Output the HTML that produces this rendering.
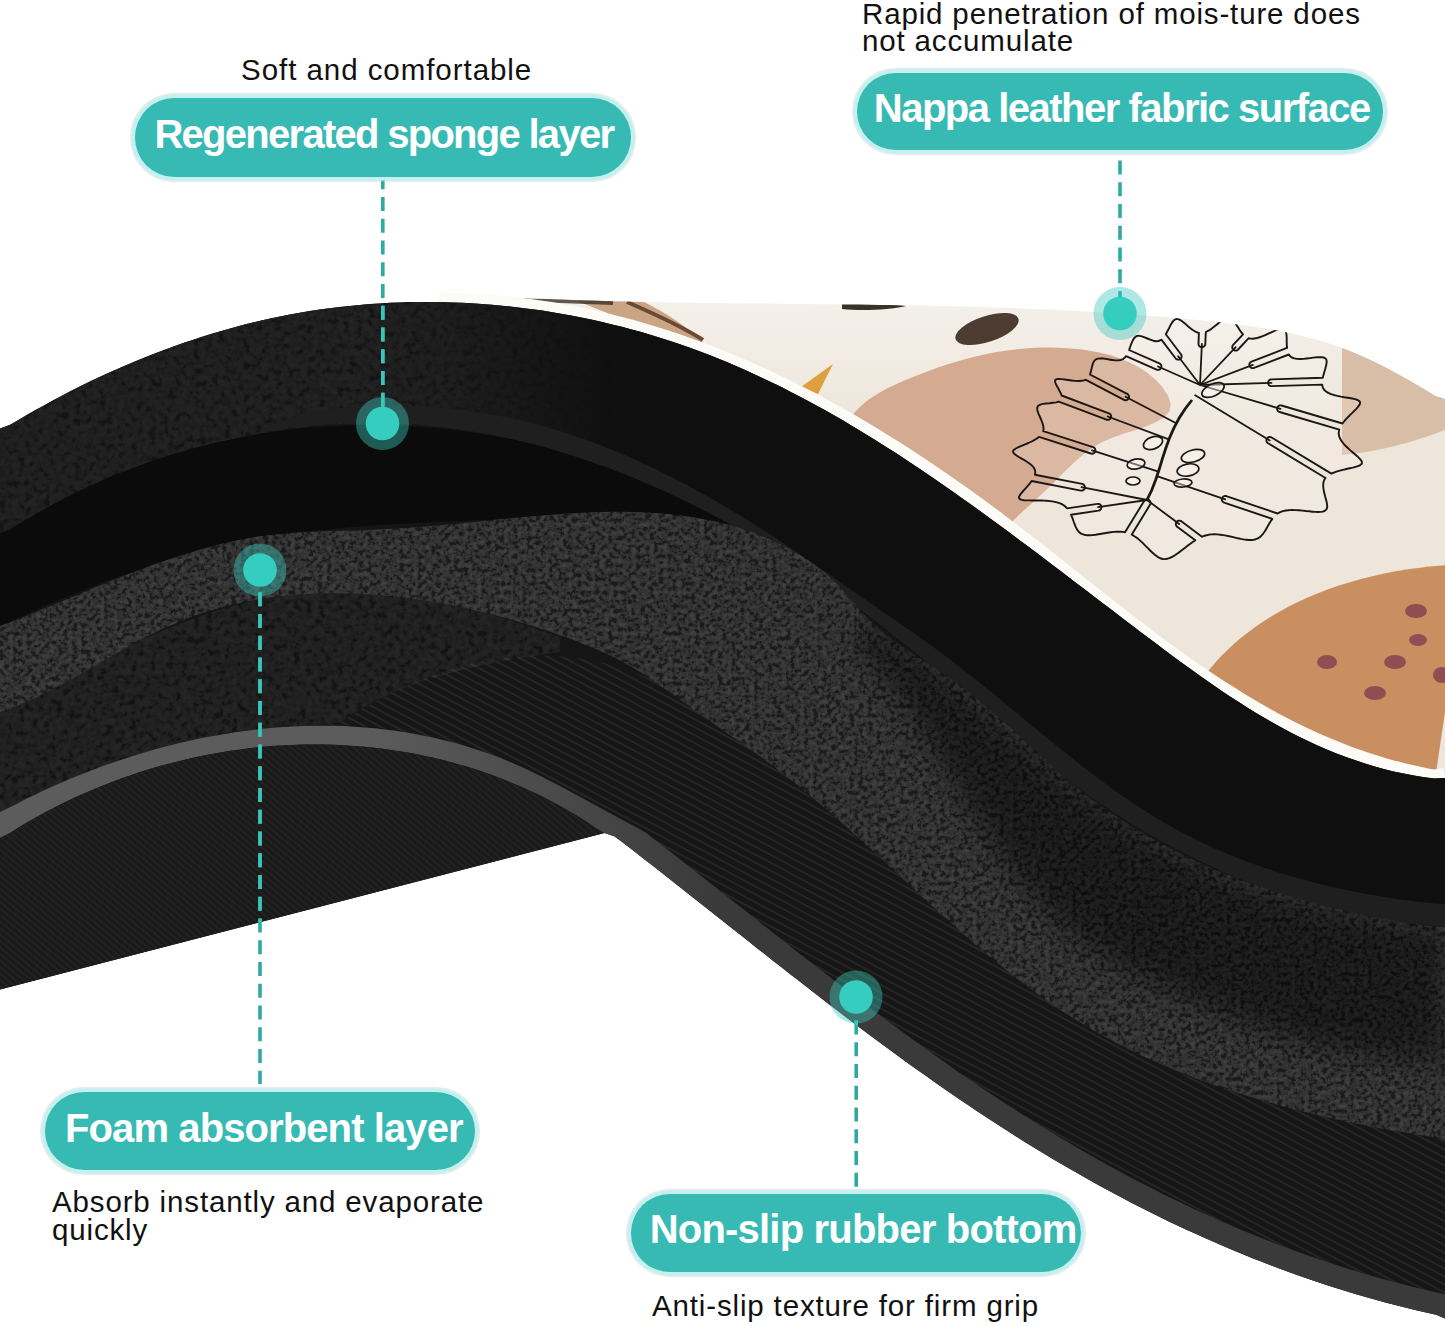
<!DOCTYPE html>
<html><head><meta charset="utf-8"><style>
html,body{margin:0;padding:0;background:#fff;}
body{width:1445px;height:1326px;position:relative;overflow:hidden;font-family:"Liberation Sans",sans-serif;}
.pill{position:absolute;background:#36bab3;box-shadow:0 0 0 3.5px #c4f1ef,0 0 1px 5px rgba(170,200,200,0.35);}
.ptxt{position:absolute;color:#fff;font-weight:bold;white-space:nowrap;line-height:1;}
.note{position:absolute;color:#111;white-space:nowrap;}
</style></head><body>
<svg width="1445" height="1326" viewBox="0 0 1445 1326" style="position:absolute;left:0;top:0">
<defs>
 <linearGradient id="archg" gradientUnits="userSpaceOnUse" x1="430" y1="0" x2="650" y2="0">
  <stop offset="0" stop-color="#161616"/><stop offset="1" stop-color="#0f0f0f"/>
 </linearGradient>
 <linearGradient id="bandg" gradientUnits="userSpaceOnUse" x1="360" y1="0" x2="720" y2="0">
  <stop offset="0" stop-color="#5c5c5c"/><stop offset="1" stop-color="#3a3a3a"/>
 </linearGradient>
 <linearGradient id="creamg" gradientUnits="userSpaceOnUse" x1="0" y1="300" x2="0" y2="420">
  <stop offset="0" stop-color="#f4f0ea"/><stop offset="1" stop-color="#eee6db"/>
 </linearGradient>
 <filter id="nz" filterUnits="userSpaceOnUse" x="0" y="0" width="1445" height="1326">
  <feTurbulence type="fractalNoise" baseFrequency="0.16" numOctaves="4" seed="4"/>
  <feColorMatrix type="matrix" values="0.6 0.4 0 0 0  0.6 0.4 0 0 0  0.6 0.4 0 0 0  0 0 0 0 1"/>
  <feComponentTransfer>
   <feFuncR type="linear" slope="3.2" intercept="-1.15"/>
   <feFuncG type="linear" slope="3.2" intercept="-1.15"/>
   <feFuncB type="linear" slope="3.2" intercept="-1.15"/>
  </feComponentTransfer>
 </filter>
 <pattern id="wov" width="7" height="7" patternUnits="userSpaceOnUse" patternTransform="rotate(28)">
  <rect width="7" height="7" fill="#161616"/><rect y="0" width="7" height="2" fill="#262626"/>
 </pattern>
 <pattern id="wov2" width="5" height="5" patternUnits="userSpaceOnUse" patternTransform="rotate(40)">
  <rect width="5" height="5" fill="#1a1a1a"/><rect y="0" width="5" height="1.4" fill="#252525"/>
 </pattern>
 <filter id="blur12" x="-10%" y="-10%" width="120%" height="120%"><feGaussianBlur stdDeviation="14"/></filter>
 <filter id="nzF" filterUnits="userSpaceOnUse" x="0" y="0" width="1445" height="1326">
  <feTurbulence type="fractalNoise" baseFrequency="0.22" numOctaves="4" seed="11"/>
  <feColorMatrix type="matrix" values="0.6 0.4 0 0 0  0.6 0.4 0 0 0  0.6 0.4 0 0 0  0 0 0 0 1"/>
  <feComponentTransfer>
   <feFuncR type="linear" slope="3" intercept="-1.2"/>
   <feFuncG type="linear" slope="3" intercept="-1.2"/>
   <feFuncB type="linear" slope="3" intercept="-1.2"/>
  </feComponentTransfer>
 </filter>
 <linearGradient id="archfade" gradientUnits="userSpaceOnUse" x1="380" y1="0" x2="620" y2="0">
  <stop offset="0" stop-color="#fff"/><stop offset="1" stop-color="#000"/>
 </linearGradient>
 <mask id="archmask" maskUnits="userSpaceOnUse" x="0" y="0" width="1445" height="1326"><rect x="0" y="280" width="700" height="300" fill="url(#archfade)"/></mask>
 <clipPath id="archclip2"><path d="M0.0,428.4 9.7,425.1 18.4,419.9 27.2,414.8 36.0,409.8 44.9,404.9 53.8,400.0 62.8,395.3 71.8,390.6 80.8,386.1 89.9,381.6 99.0,377.3 108.2,373.1 117.4,368.9 126.7,364.9 136.0,361.0 145.3,357.2 154.7,353.5 164.1,349.9 173.6,346.4 183.1,343.1 192.6,339.9 202.2,336.8 211.8,333.8 221.4,330.9 231.1,328.2 240.8,325.6 250.6,323.1 260.3,320.8 270.2,318.6 280.0,316.5 289.9,314.5 299.8,312.8 309.8,311.1 319.7,309.6 329.7,308.2 339.8,307.0 349.8,305.9 359.9,304.9 370.0,304.1 380.1,303.4 390.3,302.8 400.4,302.4 410.6,302.1 420.7,302.0 430.9,302.0 441.0,302.1 451.2,302.4 461.4,302.8 471.5,303.3 481.7,303.9 491.8,304.7 502.0,305.7 512.1,306.7 522.2,307.9 532.3,309.2 542.4,310.6 552.4,312.2 562.4,313.9 572.4,315.8 582.4,317.7 592.3,319.8 602.2,322.0 612.1,324.4 621.9,326.8 631.7,329.4 641.4,332.1 651.1,335.0 660.7,337.9 670.3,341.0 679.9,344.2 689.3,347.6 698.8,351.0 708.2,354.6 717.5,358.3 726.8,362.1 736.0,366.0 745.2,370.0 754.3,374.2 763.4,378.4 772.4,382.7 781.4,387.1 790.3,391.7 799.2,396.3 808.1,401.0 816.9,405.8 825.7,410.6 834.4,415.6 843.2,420.6 851.8,425.7 860.5,430.9 869.1,436.2 877.6,441.5 886.2,446.9 894.7,452.3 903.1,457.8 911.6,463.4 920.0,469.0 928.4,474.7 936.8,480.4 945.1,486.2 953.4,492.0 961.7,497.9 970.0,503.8 978.3,509.7 986.5,515.7 994.7,521.7 1003.0,527.7 1011.1,533.8 1019.3,539.9 1027.5,546.0 1035.6,552.1 1043.8,558.2 1051.9,564.4 1060.0,570.5 1068.1,576.7 1076.2,582.9 1084.3,589.1 1092.4,595.2 1100.5,601.4 1108.6,607.6 1116.7,613.7 1124.8,619.9 1132.8,626.0 1140.9,632.2 1149.0,638.3 1157.1,644.3 1165.2,650.4 1173.3,656.4 1181.4,662.4 1189.6,668.3 1197.8,674.2 1206.0,680.0 1214.2,685.7 1222.5,691.4 1230.8,696.9 1239.2,702.3 1247.6,707.7 1256.1,712.9 1264.7,718.0 1273.3,722.9 1282.0,727.8 1290.7,732.4 1299.6,736.9 1308.5,741.3 1317.5,745.4 1326.7,749.4 1335.9,753.2 1345.2,756.8 1354.7,760.1 1364.2,763.3 1373.9,766.2 1383.7,768.9 1393.6,771.4 1403.7,773.6 1413.9,775.5 1424.2,777.2 1434.7,778.6 1445.0,778.0 L1445,927 L1445.0,927.0 1435.4,926.3 1425.2,925.5 1415.0,924.5 1404.8,923.3 1394.6,921.9 1384.5,920.4 1374.4,918.8 1364.3,917.0 1354.3,915.0 1344.4,912.9 1334.4,910.6 1324.6,908.1 1314.7,905.5 1305.0,902.8 1295.2,899.9 1285.6,896.9 1276.0,893.7 1266.5,890.3 1257.0,886.8 1247.6,883.2 1238.3,879.4 1229.0,875.5 1219.8,871.4 1210.7,867.2 1201.7,862.9 1192.8,858.4 1183.9,853.8 1175.2,849.1 1166.5,844.2 1157.9,839.2 1149.4,834.0 1140.9,828.8 1132.6,823.4 1124.3,817.9 1116.0,812.4 1107.8,806.7 1099.7,801.0 1091.6,795.1 1083.6,789.2 1075.6,783.2 1067.7,777.2 1059.8,771.0 1051.9,764.9 1044.0,758.6 1036.2,752.4 1028.4,746.0 1020.6,739.7 1012.8,733.3 1005.0,726.9 997.3,720.5 989.5,714.0 981.7,707.6 973.9,701.1 966.1,694.6 958.3,688.2 950.4,681.8 942.6,675.3 934.7,668.9 926.8,662.6 918.8,656.2 910.8,649.9 902.8,643.6 894.8,637.3 886.8,631.1 878.7,624.9 870.6,618.8 862.4,612.7 854.2,606.6 846.0,600.6 837.8,594.7 829.5,588.8 821.2,583.0 812.9,577.2 804.5,571.5 796.1,565.8 787.6,560.3 779.1,554.8 770.6,549.3 762.0,544.0 753.4,538.7 744.8,533.5 736.1,528.4 727.4,523.4 718.6,518.5 709.8,513.7 700.9,509.0 692.0,504.3 683.1,499.8 674.1,495.4 665.1,491.1 656.0,486.9 646.8,482.8 637.7,478.8 628.4,475.0 619.2,471.2 609.8,467.6 600.5,464.1 591.0,460.8 581.6,457.6 572.0,454.5 562.4,451.5 552.8,448.7 543.1,446.1 533.4,443.6 523.6,441.2 513.7,439.0 503.9,436.9 494.0,435.0 484.0,433.2 474.1,431.5 464.1,430.0 454.0,428.7 444.0,427.5 433.9,426.5 423.8,425.6 413.8,424.8 403.6,424.3 393.5,423.8 383.4,423.6 373.3,423.5 363.2,423.5 353.1,423.7 343.0,424.1 332.9,424.6 322.8,425.3 312.7,426.1 302.7,427.2 292.7,428.3 282.7,429.7 272.7,431.2 262.7,432.9 252.8,434.7 243.0,436.7 233.1,438.9 223.3,441.2 213.6,443.7 203.9,446.3 194.2,449.1 184.5,452.0 174.9,455.1 165.4,458.3 155.9,461.6 146.4,465.0 136.9,468.6 127.5,472.3 118.2,476.1 108.9,480.0 99.6,484.0 90.4,488.1 81.2,492.3 72.0,496.6 62.9,501.0 53.8,505.5 44.8,510.0 35.9,514.7 26.9,519.3 18.0,524.1 9.2,528.9 0.0,533.0 Z"/></clipPath>
 <clipPath id="dimclip"><path d="M0.0,712.0 9.3,708.3 18.3,703.6 27.2,698.9 36.2,694.2 45.2,689.4 54.2,684.6 63.3,679.7 72.3,674.9 81.4,670.2 90.5,665.4 99.7,660.7 108.8,656.0 118.0,651.5 127.3,647.0 136.5,642.6 145.8,638.3 155.2,634.1 164.5,630.0 173.9,626.1 183.4,622.4 192.9,618.8 202.4,615.4 212.0,612.2 221.6,609.3 231.3,606.5 241.0,603.9 250.8,601.6 260.6,599.6 270.5,597.8 280.4,596.3 290.4,595.0 300.4,594.0 310.4,593.3 320.5,592.7 330.6,592.4 340.7,592.4 350.8,592.5 361.0,592.9 371.1,593.5 381.3,594.3 391.4,595.2 401.6,596.4 411.8,597.8 421.9,599.4 432.0,601.1 442.1,603.0 452.2,605.1 462.2,607.3 472.3,609.7 482.2,612.3 492.2,615.0 502.1,617.8 511.9,620.8 521.7,623.9 531.4,627.2 541.1,630.5 550.7,634.0 560.0,637.0 L560.0,652.0 549.6,653.5 539.2,655.1 528.8,656.7 518.4,658.4 507.9,660.2 497.5,662.2 487.0,664.3 476.6,666.5 466.2,668.9 455.9,671.5 445.7,674.2 435.5,677.2 425.4,680.4 415.4,683.9 405.5,687.6 395.7,691.5 386.0,695.8 376.5,700.4 367.1,705.3 357.9,710.5 348.9,716.1 340.0,722.0 L300,726 L229,732 L172,746 L115,762 L57,785 L0,812 Z"/></clipPath>
 <clipPath id="creamclip"><path d="M502.0,298.0 512.3,297.4 522.5,297.9 532.6,298.4 542.8,298.8 553.0,299.2 563.1,299.6 573.3,300.0 583.5,300.3 593.7,300.6 603.9,300.9 614.1,301.2 624.2,301.4 634.4,301.7 644.6,301.9 654.8,302.1 665.0,302.3 675.2,302.5 685.4,302.6 695.6,302.8 705.9,302.9 716.1,303.1 726.3,303.2 736.5,303.3 746.7,303.4 756.9,303.5 767.1,303.6 777.3,303.7 787.6,303.9 797.8,304.0 808.0,304.1 818.2,304.2 828.4,304.3 838.6,304.4 848.9,304.5 859.1,304.6 869.3,304.8 879.5,304.9 889.7,305.1 899.9,305.2 910.2,305.4 920.4,305.6 930.6,305.8 940.8,306.0 951.0,306.3 961.2,306.5 971.4,306.8 981.6,307.1 991.8,307.4 1002.0,307.7 1012.2,308.1 1022.4,308.5 1032.6,308.9 1042.8,309.3 1053.0,309.8 1063.2,310.3 1073.4,310.8 1083.6,311.3 1093.7,311.9 1103.9,312.5 1114.1,313.2 1124.3,313.9 1134.4,314.6 1144.6,315.4 1154.7,316.2 1164.9,317.0 1175.0,317.9 1185.2,318.8 1195.3,319.7 1205.5,320.8 1215.6,321.8 1225.7,322.9 1235.8,324.2 1245.9,325.5 1255.9,327.0 1265.9,328.6 1275.9,330.3 1285.8,332.3 1295.7,334.4 1305.5,336.8 1315.3,339.3 1325.0,342.2 1334.6,345.3 1344.1,348.7 1353.5,352.4 1362.9,356.4 1372.2,360.7 1381.4,365.2 1390.5,370.0 1399.6,375.0 1408.6,380.0 1417.6,385.2 1426.5,390.5 1435.5,395.9 1445.0,399.0 L1445,830 L1250,830 L1000,640 L700,430 L480,330 Z"/></clipPath>
 <clipPath id="foamclip"><path d="M0.0,626.0 9.3,622.6 18.4,619.0 27.6,615.4 36.8,611.7 46.1,607.8 55.4,604.0 64.8,600.1 74.2,596.2 83.6,592.3 93.1,588.3 102.6,584.4 112.1,580.6 121.7,576.8 131.3,573.0 140.9,569.4 150.6,565.8 160.3,562.3 170.0,559.0 179.7,555.7 189.4,552.7 199.2,549.8 209.0,547.1 218.7,544.5 228.5,542.2 238.3,540.1 248.1,538.2 257.9,536.6 267.8,535.3 277.6,534.2 287.4,533.2 297.3,532.5 307.1,531.9 317.0,531.5 326.9,531.1 336.8,530.8 346.7,530.5 356.7,530.2 366.7,529.9 376.7,529.6 386.8,529.1 396.9,528.6 407.0,527.9 417.2,527.1 427.4,526.3 437.6,525.4 447.9,524.5 458.1,523.5 468.4,522.4 478.7,521.4 489.0,520.4 499.3,519.3 509.6,518.3 519.9,517.3 530.2,516.4 540.5,515.5 550.8,514.7 561.1,513.9 571.3,513.3 581.6,512.7 591.8,512.3 602.0,512.0 612.1,511.8 622.2,511.8 632.3,512.0 642.4,512.3 652.4,512.8 662.3,513.6 672.2,514.5 682.1,515.7 691.9,517.1 701.6,518.8 711.3,520.7 720.9,522.9 730.4,525.3 739.9,528.1 749.3,531.2 758.6,534.6 767.8,538.4 776.9,542.5 785.9,547.0 794.7,551.8 803.3,557.0 811.7,562.6 819.7,568.6 827.5,575.0 834.9,581.9 841.9,589.2 848.5,596.8 855.1,604.6 861.7,612.2 868.7,619.5 876.1,626.3 883.7,632.7 891.7,638.8 899.8,644.7 908.1,650.5 916.5,656.1 925.0,661.6 933.5,667.1 941.9,672.7 950.3,678.5 958.5,684.4 966.5,690.5 974.4,696.7 982.2,703.2 989.9,709.7 997.5,716.4 1005.1,723.1 1012.6,729.9 1020.0,736.8 1027.5,743.7 1034.9,750.5 1042.4,757.4 1049.9,764.1 1057.4,770.9 1065.0,777.5 1072.8,784.0 1080.6,790.3 1088.5,796.6 1096.6,802.6 1104.8,808.5 1113.1,814.2 1121.5,819.8 1130.0,825.2 1138.6,830.5 1147.3,835.6 1156.1,840.6 1165.0,845.4 1173.9,850.1 1183.0,854.6 1192.1,859.0 1201.3,863.3 1210.6,867.4 1220.0,871.4 1229.4,875.2 1238.8,878.9 1248.4,882.5 1257.9,885.9 1267.6,889.2 1277.2,892.4 1286.9,895.4 1296.7,898.3 1306.5,901.1 1316.3,903.8 1326.1,906.4 1336.0,908.8 1345.8,911.1 1355.7,913.3 1365.6,915.4 1375.5,917.3 1385.4,919.2 1395.3,920.9 1405.2,922.6 1415.1,924.1 1424.9,925.5 1434.8,926.8 1445.0,927.0 L1445,1140 L1445.0,1140.0 1435.1,1137.7 1425.3,1136.1 1415.4,1134.5 1405.5,1132.8 1395.6,1131.1 1385.6,1129.3 1375.7,1127.4 1365.8,1125.5 1355.8,1123.5 1345.9,1121.4 1336.0,1119.2 1326.1,1117.0 1316.2,1114.7 1306.3,1112.3 1296.4,1109.8 1286.5,1107.2 1276.7,1104.6 1266.9,1101.8 1257.1,1099.0 1247.4,1096.0 1237.7,1093.0 1228.0,1089.8 1218.4,1086.5 1208.8,1083.2 1199.3,1079.7 1189.8,1076.1 1180.4,1072.4 1171.1,1068.6 1161.8,1064.6 1152.5,1060.6 1143.4,1056.4 1134.3,1052.0 1125.3,1047.6 1116.3,1043.0 1107.5,1038.3 1098.7,1033.4 1090.0,1028.4 1081.4,1023.3 1072.9,1018.0 1064.4,1012.6 1056.1,1007.0 1047.8,1001.3 1039.7,995.5 1031.6,989.6 1023.5,983.5 1015.6,977.4 1007.6,971.2 999.8,964.8 992.0,958.4 984.2,951.9 976.5,945.4 968.9,938.8 961.3,932.1 953.7,925.3 946.1,918.6 938.6,911.7 931.0,904.9 923.5,898.0 916.0,891.1 908.6,884.2 901.1,877.2 893.6,870.3 886.1,863.4 878.7,856.5 871.2,849.6 863.6,842.7 856.1,835.9 848.6,829.1 841.0,822.3 833.3,815.6 825.7,808.9 818.0,802.3 810.3,795.8 802.5,789.3 794.6,782.9 786.7,776.7 778.8,770.4 770.8,764.3 762.7,758.3 754.5,752.4 746.3,746.6 738.1,740.8 729.9,735.1 721.6,729.3 713.4,723.6 705.1,717.7 696.9,711.9 688.8,705.9 680.6,700.0 672.4,694.1 664.2,688.3 656.0,682.6 647.7,677.0 639.2,671.6 630.7,666.5 622.0,661.7 613.2,657.1 604.2,652.9 595.1,648.8 585.9,645.0 576.6,641.3 567.2,637.8 557.7,634.4 548.1,631.1 538.5,628.0 528.8,624.9 519.1,621.9 509.3,619.1 499.4,616.4 489.5,613.8 479.6,611.4 469.6,609.1 459.6,606.9 449.6,604.9 439.5,603.0 429.4,601.3 419.3,599.7 409.2,598.3 399.1,597.1 388.9,596.0 378.8,595.1 368.7,594.4 358.6,593.8 348.5,593.4 338.4,593.3 328.3,593.3 318.2,593.5 308.2,593.9 298.2,594.6 288.2,595.4 278.3,596.5 268.4,597.8 258.6,599.4 248.8,601.2 239.0,603.2 229.3,605.5 219.7,608.0 210.1,610.8 200.5,613.8 191.1,617.2 181.7,620.8 172.4,624.7 163.1,628.8 153.9,633.2 144.8,637.9 135.7,642.7 126.7,647.6 117.7,652.7 108.8,657.8 99.8,663.0 90.9,668.2 81.9,673.3 73.0,678.4 64.0,683.3 55.0,688.1 46.0,692.8 36.9,697.2 27.8,701.3 18.6,705.2 9.3,708.8 0.0,712.0 Z"/></clipPath>
 <clipPath id="silclip"><path d="M0.0,428.4 9.7,425.1 18.4,419.9 27.2,414.8 36.0,409.8 44.9,404.9 53.8,400.0 62.8,395.3 71.8,390.6 80.8,386.1 89.9,381.6 99.0,377.3 108.2,373.1 117.4,368.9 126.7,364.9 136.0,361.0 145.3,357.2 154.7,353.5 164.1,349.9 173.6,346.4 183.1,343.1 192.6,339.9 202.2,336.8 211.8,333.8 221.4,330.9 231.1,328.2 240.8,325.6 250.6,323.1 260.3,320.8 270.2,318.6 280.0,316.5 289.9,314.5 299.8,312.8 309.8,311.1 319.7,309.6 329.7,308.2 339.8,307.0 349.8,305.9 359.9,304.9 370.0,304.1 380.1,303.4 390.3,302.8 400.4,302.4 410.6,302.1 420.7,302.0 430.9,302.0 441.0,302.1 451.2,302.4 461.4,302.8 471.5,303.3 481.7,303.9 491.8,304.7 502.0,305.7 512.1,306.7 522.2,307.9 532.3,309.2 542.4,310.6 552.4,312.2 562.4,313.9 572.4,315.8 582.4,317.7 592.3,319.8 602.2,322.0 612.1,324.4 621.9,326.8 631.7,329.4 641.4,332.1 651.1,335.0 660.7,337.9 670.3,341.0 679.9,344.2 689.3,347.6 698.8,351.0 708.2,354.6 717.5,358.3 726.8,362.1 736.0,366.0 745.2,370.0 754.3,374.2 763.4,378.4 772.4,382.7 781.4,387.1 790.3,391.7 799.2,396.3 808.1,401.0 816.9,405.8 825.7,410.6 834.4,415.6 843.2,420.6 851.8,425.7 860.5,430.9 869.1,436.2 877.6,441.5 886.2,446.9 894.7,452.3 903.1,457.8 911.6,463.4 920.0,469.0 928.4,474.7 936.8,480.4 945.1,486.2 953.4,492.0 961.7,497.9 970.0,503.8 978.3,509.7 986.5,515.7 994.7,521.7 1003.0,527.7 1011.1,533.8 1019.3,539.9 1027.5,546.0 1035.6,552.1 1043.8,558.2 1051.9,564.4 1060.0,570.5 1068.1,576.7 1076.2,582.9 1084.3,589.1 1092.4,595.2 1100.5,601.4 1108.6,607.6 1116.7,613.7 1124.8,619.9 1132.8,626.0 1140.9,632.2 1149.0,638.3 1157.1,644.3 1165.2,650.4 1173.3,656.4 1181.4,662.4 1189.6,668.3 1197.8,674.2 1206.0,680.0 1214.2,685.7 1222.5,691.4 1230.8,696.9 1239.2,702.3 1247.6,707.7 1256.1,712.9 1264.7,718.0 1273.3,722.9 1282.0,727.8 1290.7,732.4 1299.6,736.9 1308.5,741.3 1317.5,745.4 1326.7,749.4 1335.9,753.2 1345.2,756.8 1354.7,760.1 1364.2,763.3 1373.9,766.2 1383.7,768.9 1393.6,771.4 1403.7,773.6 1413.9,775.5 1424.2,777.2 1434.7,778.6 1445.0,778.0 L1445,1318.5 L1445.0,1318.5 1436.1,1314.8 1426.1,1312.6 1416.1,1310.2 1406.1,1307.8 1396.2,1305.3 1386.3,1302.7 1376.5,1300.0 1366.7,1297.3 1356.9,1294.4 1347.2,1291.5 1337.5,1288.5 1327.8,1285.4 1318.2,1282.2 1308.6,1279.0 1299.1,1275.7 1289.5,1272.3 1280.0,1268.8 1270.6,1265.2 1261.2,1261.6 1251.8,1257.9 1242.4,1254.1 1233.1,1250.3 1223.8,1246.3 1214.6,1242.3 1205.4,1238.3 1196.2,1234.1 1187.0,1229.9 1177.9,1225.7 1168.8,1221.4 1159.8,1217.0 1150.8,1212.5 1141.8,1208.0 1132.8,1203.4 1123.9,1198.7 1115.0,1194.0 1106.1,1189.2 1097.3,1184.4 1088.5,1179.5 1079.7,1174.6 1071.0,1169.6 1062.3,1164.5 1053.6,1159.4 1045.0,1154.2 1036.3,1149.0 1027.7,1143.7 1019.2,1138.4 1010.7,1133.0 1002.2,1127.6 993.7,1122.1 985.2,1116.5 976.8,1111.0 968.4,1105.3 960.1,1099.7 951.7,1094.0 943.4,1088.2 935.1,1082.4 926.9,1076.6 918.6,1070.8 910.4,1064.9 902.2,1058.9 894.0,1053.0 885.9,1047.0 877.7,1041.0 869.6,1034.9 861.5,1028.9 853.4,1022.8 845.3,1016.7 837.3,1010.5 829.2,1004.4 821.2,998.2 813.2,992.0 805.2,985.8 797.2,979.6 789.2,973.4 781.2,967.1 773.2,960.9 765.3,954.6 757.3,948.4 749.4,942.1 741.5,935.8 733.5,929.6 725.6,923.3 717.7,917.0 709.8,910.8 701.9,904.5 693.9,898.2 686.0,892.0 678.1,885.8 670.2,879.5 662.3,873.3 654.4,867.1 646.5,860.9 638.5,854.8 630.6,848.6 622.7,842.5 614.7,836.4 604.5,833.0 L0,989.6 Z"/></clipPath>
 <clipPath id="archclip"><path d="M0.0,428.4 9.5,424.6 18.4,419.5 27.3,414.4 36.2,409.5 45.2,404.6 54.3,399.8 63.4,395.1 72.6,390.5 81.8,386.0 91.1,381.6 100.4,377.2 109.7,373.0 119.1,368.8 128.6,364.8 138.0,360.8 147.6,357.0 157.1,353.3 166.7,349.6 176.4,346.1 186.0,342.7 195.7,339.5 205.5,336.3 215.3,333.2 225.1,330.3 234.9,327.5 244.8,324.8 254.7,322.3 264.6,319.8 274.6,317.5 284.5,315.4 294.5,313.3 304.6,311.5 314.6,309.7 324.7,308.1 334.8,306.6 344.9,305.3 355.0,304.1 365.2,303.1 375.3,302.2 385.5,301.5 395.7,300.9 405.9,300.5 416.1,300.3 426.3,300.2 436.6,300.3 446.8,300.5 457.0,300.9 467.3,301.5 477.6,302.3 487.8,303.2 498.1,304.3 508.4,305.6 518.6,307.1 528.9,308.7 539.2,310.5 549.0,312.0 L560,430 L470.0,432.0 460.0,429.9 449.7,428.1 439.5,426.5 429.3,425.1 419.0,424.0 408.8,423.1 398.6,422.4 388.4,421.9 378.2,421.6 368.0,421.6 357.8,421.7 347.6,422.1 337.5,422.7 327.3,423.4 317.2,424.4 307.1,425.5 297.0,426.8 287.0,428.3 276.9,429.9 266.9,431.8 256.9,433.8 246.9,435.9 237.0,438.2 227.0,440.6 217.1,443.2 207.3,446.0 197.4,448.8 187.6,451.9 177.9,455.0 168.1,458.2 158.4,461.6 148.8,465.1 139.1,468.7 129.6,472.4 120.0,476.2 110.5,480.1 101.1,484.2 91.7,488.2 82.3,492.4 73.0,496.7 63.7,501.0 54.5,505.4 45.3,509.9 36.2,514.4 27.1,519.0 18.1,523.7 9.1,528.4 0.0,533.0 Z"/></clipPath>
</defs>
<rect width="1445" height="1326" fill="#fff"/>
<g clip-path="url(#creamclip)">
 <rect x="450" y="280" width="1000" height="560" fill="url(#creamg)"/>
 <path d="M840.0,440.0 843.5,429.8 848.3,420.8 854.3,412.7 861.4,405.5 869.4,399.1 878.1,393.4 887.4,388.3 897.0,383.7 906.9,379.4 916.8,375.4 926.7,371.7 936.5,368.1 946.3,364.8 956.1,361.8 965.9,359.0 975.7,356.4 985.5,354.2 995.4,352.3 1005.3,350.7 1015.3,349.4 1025.4,348.4 1035.6,347.8 1046.0,347.6 1056.4,347.7 1067.0,348.2 1077.7,349.1 1088.4,350.6 1099.1,352.5 1109.5,355.1 1119.7,358.3 1129.4,362.3 1138.6,367.1 1147.2,372.7 1155.1,379.3 1162.1,386.8 1167.8,395.2 1170.8,403.7 1169.4,411.4 1163.3,417.9 1154.2,423.1 1143.9,427.3 1133.4,430.8 1122.8,434.1 1112.6,437.6 1102.9,441.7 1094.0,446.8 1085.7,452.6 1077.9,459.1 1070.4,466.0 1063.1,473.1 1055.9,480.4 1048.6,487.6 1041.1,494.7 1033.5,501.7 1025.9,508.6 1018.3,515.6 1010.9,522.7 1003.6,529.8 996.6,537.2 990.0,545.0 Z" fill="#d4aa90"/>
 <path d="M1342,340 L1342,455 C1380,452 1420,440 1450,428 L1450,330 Z" fill="#d9bea7"/>
 <path d="M1180,720 C1215,630 1320,573 1450,565 L1445,712 L1432,800 L1180,800 Z" fill="#c98f60"/>
 <path d="M577,301 L640,300 C665,312 690,328 705,345 C690,342 660,330 620,318 Z" fill="#c9a583"/>
 <path d="M627,302 C650,312 680,325 703,340" stroke="#6b4a33" stroke-width="4" fill="none"/>
 <path d="M505,298 L613,300 L613,305 L505,301 Z" fill="#3a2f26" opacity="0.8"/>
 <path d="M842,304 C860,303 890,304 906,306 C890,310 860,311 842,309 Z" fill="#3b3129"/>
 <ellipse cx="987" cy="329" rx="33" ry="13" transform="rotate(-18 987 329)" fill="#4b3b31"/>
 <path d="M833,364 L801,387 L818,394 Z" fill="#dca03e"/>
 <path d="M1013.0,451.6 1013.0,451.6 1013.3,452.8 1013.4,452.8 1013.4,452.8 1014.6,454.1 1014.6,454.1 1014.6,454.1 1016.5,455.5 1016.5,455.5 1018.9,457.0 1018.9,457.0 1021.6,458.6 1021.6,458.6 1024.5,460.2 1024.5,460.2 1027.3,462.0 1027.4,462.0 1030.0,463.9 1030.1,463.9 1032.3,465.9 1032.3,465.9 1032.4,466.0 1034.0,468.0 1034.0,468.1 1034.1,468.1 1034.1,468.2 1035.0,470.3 1035.1,470.4 1035.1,470.4 1035.1,470.5 1035.3,472.7 1035.3,472.8 1035.3,472.9 1035.3,473.0 1034.9,474.7 1034.9,474.7 1034.9,474.7 1082.1,483.9 1082.2,483.9 1082.4,484.0 1082.5,484.0 1082.8,484.1 1082.8,484.1 1083.1,484.2 1083.1,484.3 1083.3,484.4 1083.4,484.4 1083.6,484.6 1083.7,484.6 1083.9,484.8 1083.9,484.9 1084.1,485.1 1084.1,485.1 1084.3,485.3 1084.3,485.4 1084.5,485.6 1084.5,485.7 1084.6,485.9 1084.6,486.0 1084.7,486.2 1084.8,486.3 1084.8,486.5 1084.8,486.6 1084.9,486.9 1084.9,486.9 1084.9,487.2 1084.9,487.3 1084.9,487.5 1084.9,487.6 1084.8,487.9 1084.8,487.9 1084.8,488.2 1084.7,488.3 1084.7,488.5 1084.6,488.6 1084.5,488.8 1084.5,488.9 1084.4,489.1 1084.3,489.2 1084.2,489.4 1084.1,489.4 1083.9,489.6 1083.9,489.7 1083.7,489.8 1083.6,489.9 1083.4,490.0 1083.4,490.1 1083.1,490.2 1083.1,490.3 1082.8,490.4 1082.8,490.4 1082.5,490.5 1082.5,490.5 1082.2,490.6 1082.1,490.6 1081.9,490.6 1081.8,490.6 1081.6,490.6 1081.5,490.6 1081.2,490.6 1081.1,490.6 1080.9,490.6 1080.8,490.6 1031.7,481.0 1031.7,481.0 1031.6,481.0 1030.0,483.3 1029.9,483.3 1027.8,485.8 1027.8,485.9 1025.6,488.3 1025.6,488.3 1023.5,490.6 1023.5,490.6 1021.7,492.8 1021.7,492.8 1020.2,494.6 1020.2,494.7 1019.3,496.3 1019.2,496.3 1019.2,496.3 1018.9,497.6 1018.9,497.6 1018.9,497.6 1019.3,498.6 1019.3,498.6 1019.3,498.6 1020.3,499.4 1020.3,499.4 1020.4,499.4 1021.9,499.9 1021.9,499.9 1021.9,499.9 1024.0,500.2 1024.0,500.2 1026.5,500.4 1026.5,500.4 1029.3,500.4 1029.3,500.4 1032.5,500.5 1035.8,500.5 1035.8,500.5 1039.4,500.5 1039.4,500.5 1043.0,500.5 1043.0,500.6 1046.6,500.7 1046.7,500.7 1050.2,501.1 1050.3,501.1 1053.7,501.6 1053.8,501.6 1057.0,502.4 1057.1,502.4 1060.1,503.4 1060.2,503.4 1062.8,504.7 1062.9,504.8 1062.9,504.8 1065.2,506.4 1065.3,506.5 1065.3,506.5 1067.1,508.4 1067.1,508.4 1067.2,508.4 1097.5,503.9 1097.5,503.9 1097.8,503.9 1097.9,503.9 1098.1,503.9 1098.2,503.9 1098.5,503.9 1098.5,503.9 1098.8,503.9 1098.9,504.0 1099.1,504.0 1099.2,504.1 1099.4,504.2 1099.5,504.2 1099.7,504.3 1099.8,504.4 1100.0,504.5 1100.1,504.5 1100.3,504.7 1100.3,504.8 1100.5,504.9 1100.5,505.0 1100.7,505.2 1100.8,505.3 1100.9,505.5 1100.9,505.5 1101.1,505.8 1101.1,505.8 1101.2,506.1 1101.2,506.1 1101.3,506.4 1101.3,506.5 1101.4,506.7 1101.4,506.8 1101.4,507.0 1101.4,507.1 1101.4,507.4 1101.4,507.5 1101.4,507.7 1101.4,507.8 1101.3,508.0 1101.3,508.1 1101.2,508.4 1101.2,508.4 1101.1,508.7 1101.1,508.7 1100.9,509.0 1100.9,509.0 1100.8,509.2 1100.7,509.3 1100.5,509.5 1100.5,509.6 1100.3,509.7 1100.3,509.8 1100.1,510.0 1100.0,510.0 1099.8,510.1 1099.7,510.2 1099.5,510.3 1099.4,510.3 1099.2,510.4 1099.1,510.5 1098.9,510.5 1098.8,510.6 1098.5,510.6 1098.5,510.6 1071.0,514.7 1071.0,514.7 1071.0,514.7 1071.6,516.0 1071.6,516.1 1072.7,518.7 1072.7,518.8 1073.6,521.5 1074.6,524.1 1074.6,524.1 1075.6,526.6 1075.6,526.6 1076.7,528.8 1076.7,528.9 1078.0,530.8 1078.0,530.8 1078.0,530.8 1079.4,532.4 1079.4,532.4 1079.4,532.4 1081.1,533.6 1081.1,533.6 1081.2,533.6 1083.1,534.4 1083.1,534.4 1083.1,534.4 1085.2,535.0 1085.3,535.0 1087.6,535.2 1087.6,535.2 1090.1,535.2 1090.1,535.2 1092.7,535.0 1092.7,535.0 1095.5,534.7 1095.5,534.7 1098.4,534.2 1098.4,534.2 1101.4,533.7 1104.4,533.2 1104.4,533.2 1107.5,532.7 1107.5,532.7 1110.6,532.2 1110.6,532.2 1113.6,531.9 1113.7,531.9 1116.7,531.7 1116.8,531.7 1119.7,531.6 1119.8,531.7 1122.7,531.9 1122.8,531.9 1125.0,532.2 1125.0,532.2 1125.0,532.2 1144.0,501.2 1144.0,501.2 1144.2,500.9 1144.2,500.9 1144.4,500.7 1144.5,500.6 1144.6,500.4 1144.7,500.4 1144.9,500.2 1145.0,500.1 1145.2,500.0 1145.3,500.0 1145.5,499.8 1145.6,499.8 1145.8,499.7 1145.9,499.7 1146.1,499.6 1146.2,499.6 1146.5,499.5 1146.6,499.5 1146.8,499.5 1146.9,499.5 1147.2,499.5 1147.2,499.5 1147.5,499.5 1147.6,499.6 1147.8,499.6 1147.9,499.6 1148.2,499.7 1148.2,499.7 1148.5,499.8 1148.6,499.9 1148.8,500.0 1148.9,500.0 1149.1,500.2 1149.1,500.2 1149.3,500.4 1149.4,500.5 1149.6,500.6 1149.6,500.7 1149.8,500.9 1149.9,501.0 1150.0,501.2 1150.0,501.3 1150.2,501.5 1150.2,501.6 1150.3,501.8 1150.3,501.9 1150.4,502.1 1150.4,502.2 1150.5,502.5 1150.5,502.6 1150.5,502.8 1150.5,502.9 1150.5,503.2 1150.5,503.2 1150.5,503.5 1150.4,503.6 1150.4,503.8 1150.4,503.9 1150.3,504.2 1150.3,504.2 1150.2,504.5 1150.1,504.6 1150.0,504.8 1150.0,504.8 1131.8,534.6 1131.7,534.6 1131.8,534.7 1133.5,535.6 1133.6,535.7 1136.0,537.3 1136.1,537.3 1138.4,539.1 1138.4,539.1 1140.7,541.1 1140.7,541.1 1142.9,543.1 1142.9,543.2 1145.0,545.3 1145.0,545.3 1147.1,547.4 1149.2,549.5 1149.2,549.5 1151.2,551.5 1151.2,551.5 1153.1,553.3 1153.2,553.3 1155.1,555.0 1155.1,555.0 1157.1,556.4 1157.1,556.5 1159.0,557.6 1159.1,557.7 1161.0,558.5 1161.0,558.5 1161.0,558.5 1163.0,559.0 1163.0,559.0 1163.0,559.0 1165.0,559.1 1165.0,559.1 1165.0,559.1 1167.0,558.8 1167.1,558.8 1167.1,558.8 1169.1,558.2 1169.2,558.2 1171.2,557.3 1171.3,557.3 1173.4,556.2 1173.4,556.2 1175.6,554.8 1175.6,554.8 1177.8,553.3 1177.8,553.2 1180.1,551.6 1180.1,551.6 1182.4,549.8 1184.8,547.9 1184.8,547.9 1187.2,546.0 1187.2,546.0 1189.6,544.2 1189.6,544.2 1192.1,542.4 1192.1,542.4 1194.7,540.7 1194.7,540.6 1195.3,540.2 1195.4,540.2 1195.3,540.2 1177.2,526.7 1177.2,526.7 1177.0,526.5 1176.9,526.5 1176.8,526.3 1176.7,526.2 1176.5,526.1 1176.5,526.0 1176.4,525.8 1176.3,525.7 1176.2,525.5 1176.2,525.4 1176.1,525.2 1176.0,525.1 1176.0,524.9 1175.9,524.8 1175.9,524.5 1175.9,524.5 1175.9,524.2 1175.9,524.1 1175.9,523.9 1175.9,523.8 1175.9,523.5 1175.9,523.5 1175.9,523.2 1176.0,523.1 1176.0,522.9 1176.1,522.8 1176.2,522.6 1176.2,522.5 1176.3,522.3 1176.4,522.2 1176.5,522.0 1176.5,521.9 1176.7,521.7 1176.8,521.7 1176.9,521.5 1177.0,521.5 1177.2,521.3 1177.3,521.2 1177.5,521.1 1177.5,521.1 1177.8,520.9 1177.8,520.9 1178.1,520.8 1178.1,520.8 1178.4,520.7 1178.5,520.7 1178.7,520.6 1178.8,520.6 1179.0,520.6 1179.1,520.6 1179.4,520.6 1179.5,520.6 1179.7,520.6 1179.8,520.6 1180.0,520.7 1180.1,520.7 1180.4,520.8 1180.4,520.8 1180.7,520.9 1180.7,520.9 1181.0,521.1 1181.0,521.1 1181.3,521.3 1181.3,521.3 1202.0,536.7 1202.0,536.7 1202.1,536.7 1202.7,536.4 1202.7,536.4 1205.4,535.5 1205.5,535.5 1208.3,534.8 1208.4,534.8 1211.2,534.4 1211.3,534.4 1214.1,534.3 1214.2,534.3 1217.1,534.4 1217.2,534.4 1220.2,534.7 1220.2,534.7 1223.2,535.1 1223.2,535.1 1226.2,535.6 1226.2,535.6 1229.2,536.3 1229.2,536.3 1232.2,536.9 1232.2,536.9 1235.1,537.6 1238.0,538.3 1238.0,538.3 1240.8,538.9 1240.8,538.9 1243.6,539.4 1243.6,539.4 1246.2,539.8 1246.3,539.8 1248.8,540.0 1248.8,540.0 1251.2,540.0 1251.3,540.0 1253.6,539.7 1253.6,539.7 1255.8,539.2 1255.8,539.2 1255.8,539.2 1257.8,538.4 1257.8,538.4 1257.8,538.4 1259.7,537.2 1259.7,537.2 1259.7,537.2 1261.4,535.7 1261.4,535.7 1263.0,533.8 1263.0,533.8 1264.5,531.7 1264.5,531.7 1265.9,529.4 1265.9,529.4 1267.3,527.0 1268.7,524.5 1268.7,524.5 1270.2,522.0 1270.2,522.0 1271.8,519.6 1271.8,519.6 1272.3,518.9 1272.3,518.9 1272.3,518.9 1224.1,502.6 1224.1,502.6 1223.9,502.5 1223.8,502.4 1223.6,502.3 1223.5,502.3 1223.3,502.1 1223.2,502.1 1223.0,501.9 1222.9,501.9 1222.8,501.7 1222.7,501.6 1222.5,501.4 1222.5,501.4 1222.4,501.2 1222.3,501.1 1222.2,500.9 1222.2,500.8 1222.1,500.6 1222.0,500.5 1221.9,500.3 1221.9,500.2 1221.9,499.9 1221.9,499.9 1221.8,499.6 1221.8,499.5 1221.8,499.3 1221.8,499.2 1221.8,498.9 1221.9,498.9 1221.9,498.6 1221.9,498.5 1222.0,498.3 1222.0,498.2 1222.1,498.0 1222.1,497.9 1222.3,497.7 1222.3,497.6 1222.4,497.4 1222.5,497.3 1222.6,497.1 1222.7,497.1 1222.9,496.9 1222.9,496.8 1223.1,496.7 1223.2,496.6 1223.4,496.5 1223.5,496.4 1223.7,496.3 1223.7,496.3 1224.0,496.2 1224.1,496.2 1224.3,496.1 1224.4,496.1 1224.6,496.0 1224.7,496.0 1225.0,496.0 1225.0,496.0 1225.3,495.9 1225.4,496.0 1225.6,496.0 1225.7,496.0 1226.0,496.0 1226.0,496.0 1226.3,496.1 1226.3,496.1 1277.7,513.5 1277.7,513.6 1277.7,513.5 1280.0,512.2 1280.1,512.2 1280.2,512.2 1282.8,511.2 1282.9,511.2 1285.7,510.5 1285.8,510.5 1288.9,510.2 1289.0,510.1 1292.2,510.0 1292.2,510.0 1295.6,510.1 1295.6,510.1 1299.0,510.3 1299.0,510.3 1302.5,510.6 1302.5,510.6 1305.9,511.0 1305.9,511.0 1309.2,511.3 1312.3,511.7 1312.4,511.7 1315.3,511.9 1315.3,511.9 1318.1,512.0 1318.1,512.0 1320.5,511.9 1320.6,511.9 1322.7,511.6 1322.7,511.6 1322.7,511.6 1324.5,511.0 1324.5,510.9 1324.5,510.9 1325.9,510.0 1325.9,510.0 1325.9,510.0 1326.8,508.7 1326.8,508.7 1326.8,508.7 1327.2,507.0 1327.2,506.9 1327.2,506.9 1327.1,504.8 1327.1,504.8 1326.7,502.3 1326.7,502.3 1326.0,499.6 1326.0,499.6 1325.2,496.7 1325.2,496.7 1324.5,493.7 1324.4,493.7 1323.8,490.7 1323.8,490.6 1323.3,487.7 1323.3,487.6 1323.2,484.8 1323.2,484.7 1323.2,484.7 1323.5,482.1 1323.5,482.1 1323.5,482.0 1324.3,479.7 1324.4,479.7 1324.4,479.6 1324.4,479.5 1325.5,478.0 1325.5,478.0 1325.5,478.0 1268.1,443.3 1268.1,443.3 1267.8,443.1 1267.8,443.1 1267.6,442.9 1267.5,442.9 1267.3,442.7 1267.3,442.6 1267.1,442.4 1267.1,442.4 1266.9,442.1 1266.9,442.1 1266.8,441.8 1266.7,441.8 1266.6,441.5 1266.6,441.5 1266.5,441.2 1266.5,441.1 1266.5,440.9 1266.5,440.8 1266.4,440.6 1266.4,440.5 1266.4,440.2 1266.4,440.2 1266.5,439.9 1266.5,439.8 1266.5,439.6 1266.5,439.5 1266.6,439.3 1266.6,439.2 1266.7,438.9 1266.8,438.9 1266.9,438.6 1266.9,438.6 1267.1,438.4 1267.1,438.3 1267.3,438.1 1267.3,438.1 1267.5,437.9 1267.6,437.8 1267.8,437.7 1267.8,437.6 1268.1,437.5 1268.1,437.4 1268.3,437.3 1268.4,437.3 1268.7,437.2 1268.7,437.2 1269.0,437.1 1269.0,437.1 1269.3,437.0 1269.4,437.0 1269.6,437.0 1269.7,437.0 1270.0,437.0 1270.0,437.0 1270.3,437.0 1270.4,437.0 1270.6,437.1 1270.7,437.1 1270.9,437.2 1271.0,437.2 1271.3,437.3 1271.3,437.3 1271.6,437.5 1271.6,437.5 1331.4,473.6 1331.5,473.6 1331.5,473.6 1333.2,472.8 1333.3,472.8 1336.3,471.7 1336.4,471.6 1339.7,470.7 1339.7,470.7 1343.0,469.8 1343.1,469.8 1346.4,469.0 1346.4,469.0 1349.7,468.3 1352.8,467.6 1352.8,467.6 1355.5,466.9 1355.6,466.9 1357.9,466.1 1358.0,466.1 1359.9,465.3 1359.9,465.3 1359.9,465.2 1361.2,464.3 1361.2,464.3 1361.3,464.3 1361.9,463.2 1361.9,463.2 1361.9,463.2 1361.9,462.0 1361.9,462.0 1361.9,461.9 1361.2,460.5 1361.2,460.5 1361.2,460.5 1359.9,458.9 1359.9,458.9 1358.2,457.2 1358.2,457.1 1356.1,455.3 1356.1,455.3 1353.7,453.2 1351.2,451.1 1351.2,451.1 1348.7,448.9 1348.7,448.8 1346.2,446.5 1346.2,446.5 1343.9,444.1 1343.9,444.0 1341.9,441.6 1341.9,441.5 1340.3,439.1 1340.3,439.0 1340.3,438.9 1339.2,436.5 1339.2,436.4 1339.2,436.3 1338.7,433.8 1338.7,433.8 1338.7,433.7 1338.7,433.6 1338.9,431.2 1338.9,431.1 1338.9,431.0 1339.3,429.7 1339.3,429.6 1339.3,429.6 1279.6,412.0 1279.5,412.0 1279.3,411.9 1279.2,411.9 1279.0,411.8 1278.9,411.7 1278.7,411.6 1278.6,411.6 1278.4,411.4 1278.3,411.4 1278.1,411.2 1278.1,411.1 1277.9,411.0 1277.9,410.9 1277.7,410.7 1277.7,410.6 1277.5,410.4 1277.5,410.3 1277.4,410.1 1277.4,410.0 1277.3,409.8 1277.2,409.7 1277.2,409.5 1277.2,409.4 1277.1,409.1 1277.1,409.1 1277.1,408.8 1277.1,408.7 1277.1,408.5 1277.1,408.4 1277.2,408.2 1277.2,408.1 1277.2,407.8 1277.3,407.8 1277.3,407.5 1277.4,407.4 1277.5,407.2 1277.5,407.1 1277.6,406.9 1277.7,406.9 1277.8,406.6 1277.9,406.6 1278.1,406.4 1278.1,406.3 1278.3,406.2 1278.4,406.1 1278.6,406.0 1278.6,405.9 1278.8,405.8 1278.9,405.7 1279.1,405.6 1279.2,405.6 1279.5,405.5 1279.5,405.5 1279.8,405.4 1279.9,405.4 1280.1,405.4 1280.2,405.4 1280.4,405.4 1280.5,405.4 1280.8,405.4 1280.8,405.4 1281.1,405.4 1281.2,405.4 1281.4,405.5 1281.5,405.5 1342.5,423.5 1342.5,423.5 1342.5,423.5 1342.8,423.1 1342.8,423.0 1344.9,420.5 1344.9,420.4 1347.2,417.9 1347.2,417.9 1349.6,415.5 1349.6,415.4 1352.0,413.1 1352.0,413.1 1354.2,410.9 1354.2,410.9 1356.3,408.8 1356.3,408.8 1358.0,406.9 1358.0,406.8 1359.2,405.1 1359.3,405.1 1359.3,405.1 1360.0,403.6 1360.0,403.6 1360.0,403.5 1360.1,402.2 1360.1,402.2 1360.1,402.2 1359.4,401.1 1359.4,401.1 1359.4,401.1 1358.1,400.2 1358.0,400.2 1358.0,400.2 1356.1,399.5 1356.1,399.4 1353.6,398.8 1353.6,398.8 1350.8,398.3 1350.8,398.3 1347.7,397.7 1344.3,397.2 1344.3,397.2 1340.9,396.6 1340.9,396.6 1337.5,395.9 1337.5,395.9 1334.2,395.1 1334.1,395.1 1331.1,394.1 1331.0,394.1 1328.3,392.9 1328.2,392.9 1326.0,391.5 1325.9,391.4 1325.8,391.3 1324.1,389.7 1324.1,389.6 1324.0,389.6 1324.0,389.5 1322.8,387.6 1322.8,387.5 1322.8,387.4 1322.7,387.3 1322.2,385.0 1322.2,384.9 1322.2,384.9 1322.2,384.6 1322.2,384.6 1322.1,384.6 1271.6,386.1 1271.6,386.1 1271.3,386.1 1271.2,386.1 1271.0,386.1 1270.9,386.1 1270.7,386.0 1270.6,386.0 1270.3,385.9 1270.3,385.9 1270.0,385.8 1270.0,385.8 1269.7,385.7 1269.7,385.6 1269.5,385.5 1269.4,385.4 1269.2,385.3 1269.1,385.2 1269.0,385.0 1268.9,385.0 1268.8,384.8 1268.7,384.7 1268.6,384.5 1268.5,384.4 1268.4,384.2 1268.4,384.1 1268.3,383.9 1268.3,383.8 1268.2,383.6 1268.2,383.5 1268.1,383.2 1268.1,383.2 1268.1,382.9 1268.1,382.8 1268.1,382.6 1268.1,382.5 1268.1,382.2 1268.2,382.2 1268.2,381.9 1268.2,381.8 1268.3,381.6 1268.3,381.5 1268.4,381.3 1268.5,381.2 1268.6,381.0 1268.6,380.9 1268.8,380.7 1268.8,380.6 1269.0,380.5 1269.0,380.4 1269.2,380.2 1269.3,380.2 1269.5,380.0 1269.6,380.0 1269.8,379.8 1269.8,379.8 1270.1,379.7 1270.1,379.6 1270.4,379.5 1270.4,379.5 1270.7,379.4 1270.8,379.4 1271.0,379.4 1271.1,379.4 1271.4,379.4 1271.4,379.4 1322.8,377.7 1322.8,377.7 1322.8,377.7 1323.2,376.0 1323.2,376.0 1324.1,372.8 1324.1,372.8 1325.0,369.8 1325.0,369.8 1325.8,366.8 1325.8,366.8 1326.4,364.2 1326.4,364.1 1326.7,361.8 1326.7,361.8 1326.7,361.8 1326.4,359.9 1326.4,359.9 1326.4,359.9 1325.6,358.5 1325.6,358.5 1325.5,358.5 1324.1,357.6 1324.1,357.6 1324.1,357.6 1322.0,357.2 1322.0,357.2 1322.0,357.2 1319.5,357.1 1319.5,357.1 1316.6,357.3 1316.6,357.3 1313.5,357.6 1313.5,357.6 1310.2,358.1 1310.1,358.1 1306.8,358.5 1306.7,358.5 1303.4,358.9 1303.3,358.9 1300.1,359.0 1300.0,359.0 1297.0,358.9 1296.9,358.9 1294.3,358.4 1294.2,358.4 1294.1,358.4 1291.9,357.5 1291.8,357.5 1291.7,357.4 1291.7,357.4 1290.0,356.1 1289.9,356.0 1289.8,355.9 1289.8,355.9 1288.9,354.5 1288.9,354.5 1288.9,354.5 1254.0,367.9 1253.9,367.9 1253.7,368.0 1253.6,368.0 1253.4,368.1 1253.3,368.1 1253.0,368.1 1253.0,368.1 1252.7,368.1 1252.6,368.1 1252.4,368.1 1252.3,368.1 1252.0,368.1 1252.0,368.1 1251.7,368.0 1251.6,368.0 1251.4,367.9 1251.3,367.8 1251.1,367.7 1251.0,367.7 1250.8,367.5 1250.8,367.5 1250.6,367.3 1250.5,367.3 1250.3,367.1 1250.3,367.1 1250.1,366.9 1250.0,366.8 1249.9,366.6 1249.9,366.5 1249.7,366.3 1249.7,366.2 1249.6,366.0 1249.6,365.9 1249.5,365.7 1249.5,365.6 1249.4,365.4 1249.4,365.3 1249.4,365.0 1249.4,365.0 1249.4,364.7 1249.4,364.6 1249.4,364.4 1249.4,364.3 1249.4,364.0 1249.4,364.0 1249.5,363.7 1249.5,363.6 1249.6,363.4 1249.7,363.3 1249.8,363.1 1249.8,363.0 1250.0,362.8 1250.0,362.8 1250.2,362.6 1250.2,362.5 1250.4,362.3 1250.4,362.3 1250.6,362.1 1250.7,362.0 1250.9,361.9 1251.0,361.9 1251.2,361.7 1251.3,361.7 1251.5,361.6 1251.5,361.6 1287.0,347.9 1287.1,347.9 1287.1,347.9 1286.8,345.3 1286.8,345.2 1286.7,342.0 1286.7,342.0 1286.7,338.9 1286.7,338.9 1286.6,335.9 1286.6,335.9 1286.3,333.3 1286.3,333.3 1286.3,333.3 1285.7,331.2 1285.7,331.2 1285.7,331.2 1284.8,329.8 1284.8,329.7 1284.7,329.7 1283.4,329.0 1283.4,329.0 1283.3,329.0 1281.6,328.8 1281.6,328.8 1281.5,328.8 1279.4,329.2 1279.4,329.2 1277.0,329.9 1276.9,329.9 1274.3,331.0 1274.2,331.0 1271.4,332.3 1271.3,332.3 1268.3,333.7 1268.3,333.7 1265.2,335.1 1265.2,335.1 1262.0,336.4 1262.0,336.4 1258.9,337.5 1258.8,337.5 1255.8,338.3 1255.7,338.3 1252.9,338.7 1252.8,338.7 1252.7,338.7 1250.1,338.6 1250.0,338.6 1249.9,338.6 1248.8,338.2 1248.8,338.2 1248.7,338.2 1238.1,349.5 1238.1,349.5 1237.9,349.7 1237.9,349.8 1237.7,349.9 1237.6,350.0 1237.4,350.1 1237.3,350.1 1237.1,350.3 1237.0,350.3 1236.8,350.4 1236.7,350.4 1236.4,350.5 1236.4,350.5 1236.1,350.5 1236.0,350.6 1235.8,350.6 1235.7,350.6 1235.5,350.6 1235.4,350.6 1235.1,350.5 1235.0,350.5 1234.8,350.5 1234.7,350.4 1234.5,350.4 1234.4,350.3 1234.2,350.2 1234.1,350.2 1233.9,350.1 1233.8,350.0 1233.6,349.9 1233.5,349.8 1233.3,349.7 1233.3,349.6 1233.1,349.4 1233.1,349.4 1232.9,349.2 1232.9,349.1 1232.7,348.9 1232.7,348.8 1232.6,348.6 1232.5,348.5 1232.4,348.3 1232.4,348.2 1232.3,348.0 1232.3,347.9 1232.3,347.7 1232.3,347.6 1232.3,347.3 1232.3,347.2 1232.3,347.0 1232.3,346.9 1232.3,346.7 1232.3,346.6 1232.4,346.3 1232.4,346.3 1232.5,346.0 1232.5,345.9 1232.6,345.7 1232.6,345.6 1232.7,345.4 1232.8,345.3 1232.9,345.1 1233.0,345.1 1233.2,344.9 1233.2,344.8 1243.0,334.4 1243.0,334.4 1243.0,334.4 1241.2,332.2 1241.2,332.2 1239.5,329.7 1239.4,329.6 1237.8,327.0 1237.8,327.0 1236.2,324.4 1236.2,324.4 1234.7,322.1 1234.6,322.1 1233.1,320.1 1233.1,320.1 1233.0,320.1 1231.4,318.7 1231.4,318.7 1231.4,318.6 1229.6,317.9 1229.6,317.9 1229.6,317.9 1227.7,317.9 1227.7,317.9 1227.6,317.9 1225.6,318.5 1225.6,318.5 1225.6,318.5 1223.4,319.7 1223.4,319.7 1221.1,321.3 1221.1,321.3 1218.7,323.1 1218.7,323.1 1216.3,325.1 1216.2,325.1 1213.7,327.1 1213.7,327.1 1211.1,329.0 1211.1,329.1 1208.5,330.7 1208.5,330.7 1205.9,332.0 1205.8,332.1 1205.8,332.1 1205.8,332.1 1205.3,343.9 1205.3,343.9 1205.2,344.2 1205.2,344.3 1205.2,344.5 1205.2,344.6 1205.1,344.9 1205.1,344.9 1205.0,345.2 1204.9,345.2 1204.8,345.5 1204.8,345.5 1204.6,345.8 1204.6,345.8 1204.4,346.0 1204.4,346.1 1204.2,346.3 1204.1,346.3 1203.9,346.5 1203.9,346.5 1203.7,346.7 1203.6,346.7 1203.4,346.8 1203.3,346.9 1203.1,347.0 1203.0,347.0 1202.7,347.1 1202.7,347.1 1202.4,347.1 1202.3,347.1 1202.1,347.2 1202.0,347.2 1201.7,347.2 1201.7,347.2 1201.4,347.1 1201.3,347.1 1201.1,347.1 1201.0,347.1 1200.8,347.0 1200.7,347.0 1200.5,346.9 1200.4,346.8 1200.2,346.7 1200.1,346.7 1199.9,346.5 1199.8,346.5 1199.6,346.3 1199.6,346.3 1199.4,346.1 1199.3,346.0 1199.2,345.8 1199.1,345.8 1199.0,345.6 1198.9,345.5 1198.8,345.3 1198.8,345.2 1198.7,345.0 1198.7,344.9 1198.6,344.6 1198.6,344.6 1198.5,344.3 1198.5,344.2 1198.5,344.0 1198.5,343.9 1198.5,343.6 1198.5,343.6 1198.9,332.9 1198.9,332.9 1198.9,332.9 1197.9,332.7 1197.8,332.7 1197.8,332.6 1195.3,331.6 1195.2,331.6 1195.2,331.5 1192.7,330.0 1192.6,329.9 1190.1,328.0 1190.1,328.0 1187.6,325.9 1187.6,325.9 1185.3,323.8 1185.3,323.8 1183.0,321.9 1183.0,321.9 1180.8,320.3 1180.8,320.3 1180.8,320.3 1178.8,319.3 1178.8,319.3 1178.8,319.3 1176.9,318.9 1176.9,318.9 1176.9,318.9 1175.2,319.3 1175.2,319.3 1175.1,319.4 1173.6,320.6 1173.6,320.6 1173.5,320.6 1172.1,322.6 1172.1,322.6 1170.6,325.0 1170.6,325.0 1169.2,327.8 1169.2,327.8 1167.7,330.7 1167.7,330.7 1166.2,333.5 1166.2,333.6 1165.8,334.1 1165.8,334.2 1165.8,334.2 1180.9,354.2 1181.0,354.2 1181.1,354.4 1181.2,354.5 1181.3,354.7 1181.3,354.8 1181.4,355.0 1181.5,355.1 1181.5,355.4 1181.5,355.4 1181.6,355.7 1181.6,355.8 1181.6,356.0 1181.6,356.1 1181.6,356.3 1181.6,356.4 1181.6,356.7 1181.6,356.8 1181.6,357.0 1181.5,357.1 1181.5,357.3 1181.4,357.4 1181.4,357.6 1181.3,357.7 1181.2,357.9 1181.2,358.0 1181.0,358.2 1181.0,358.3 1180.8,358.5 1180.8,358.5 1180.6,358.7 1180.5,358.8 1180.3,358.9 1180.3,359.0 1180.1,359.1 1180.0,359.2 1179.8,359.3 1179.7,359.3 1179.5,359.4 1179.4,359.5 1179.1,359.5 1179.1,359.5 1178.8,359.6 1178.7,359.6 1178.5,359.6 1178.4,359.6 1178.2,359.6 1178.1,359.6 1177.8,359.6 1177.7,359.6 1177.5,359.6 1177.4,359.5 1177.2,359.5 1177.1,359.4 1176.9,359.4 1176.8,359.3 1176.6,359.2 1176.5,359.2 1176.3,359.0 1176.2,359.0 1176.0,358.8 1176.0,358.8 1175.8,358.6 1175.7,358.5 1175.6,358.3 1175.5,358.3 1161.4,339.6 1161.4,339.6 1161.3,339.6 1160.8,340.1 1160.7,340.1 1160.6,340.1 1160.6,340.2 1158.5,341.0 1158.5,341.1 1158.4,341.1 1158.3,341.1 1158.2,341.1 1155.9,341.2 1155.9,341.2 1155.8,341.2 1153.2,340.7 1153.1,340.7 1150.3,339.7 1150.3,339.7 1147.4,338.5 1147.4,338.5 1144.6,337.3 1144.6,337.3 1141.9,336.4 1141.9,336.4 1139.4,335.8 1139.4,335.8 1139.4,335.8 1137.2,335.9 1137.2,335.9 1137.2,335.9 1135.4,336.9 1135.4,336.9 1135.4,336.9 1133.9,338.5 1133.9,338.5 1133.9,338.5 1132.6,340.8 1132.6,340.8 1131.5,343.4 1131.4,343.4 1130.4,346.3 1129.3,349.3 1129.3,349.3 1129.0,350.0 1129.0,350.0 1129.0,350.0 1159.4,363.4 1159.4,363.4 1159.6,363.5 1159.7,363.6 1159.9,363.7 1160.0,363.7 1160.2,363.9 1160.2,363.9 1160.4,364.1 1160.5,364.2 1160.6,364.4 1160.7,364.4 1160.8,364.6 1160.9,364.7 1161.0,364.9 1161.0,365.0 1161.2,365.2 1161.2,365.3 1161.3,365.5 1161.3,365.6 1161.3,365.9 1161.4,365.9 1161.4,366.2 1161.4,366.3 1161.4,366.5 1161.4,366.6 1161.4,366.9 1161.4,366.9 1161.3,367.2 1161.3,367.3 1161.2,367.5 1161.2,367.6 1161.1,367.8 1161.1,367.9 1161.0,368.1 1160.9,368.2 1160.8,368.4 1160.8,368.5 1160.6,368.7 1160.6,368.7 1160.4,368.9 1160.3,369.0 1160.1,369.1 1160.1,369.2 1159.9,369.3 1159.8,369.4 1159.6,369.5 1159.5,369.5 1159.3,369.7 1159.2,369.7 1159.0,369.8 1158.9,369.8 1158.6,369.8 1158.6,369.9 1158.3,369.9 1158.2,369.9 1158.0,369.9 1157.9,369.9 1157.6,369.9 1157.6,369.9 1157.3,369.8 1157.2,369.8 1157.0,369.7 1156.9,369.7 1156.6,369.6 1156.6,369.6 1126.0,356.1 1126.0,356.1 1126.0,356.1 1125.2,357.1 1125.2,357.2 1125.1,357.3 1123.3,358.9 1123.3,358.9 1123.2,359.0 1123.1,359.0 1121.0,359.9 1120.9,360.0 1120.9,360.0 1120.8,360.0 1118.3,360.4 1118.2,360.4 1118.2,360.4 1115.4,360.4 1115.3,360.4 1112.3,360.0 1112.2,360.0 1109.1,359.5 1109.1,359.5 1106.0,358.9 1106.0,358.9 1103.1,358.5 1103.0,358.5 1100.3,358.4 1100.3,358.4 1100.3,358.4 1097.9,358.6 1097.8,358.6 1097.8,358.6 1095.8,359.4 1095.8,359.4 1095.8,359.4 1094.3,360.9 1094.2,360.9 1094.2,360.9 1093.1,363.0 1093.1,363.0 1093.1,363.0 1092.3,365.6 1092.3,365.6 1091.6,368.5 1091.6,368.5 1090.9,371.4 1090.9,371.5 1090.1,374.2 1090.0,374.3 1090.0,374.3 1090.0,374.4 1090.0,374.5 1090.0,374.5 1127.1,393.8 1127.2,393.8 1127.4,394.0 1127.5,394.0 1127.7,394.2 1127.7,394.2 1127.9,394.4 1128.0,394.4 1128.2,394.6 1128.2,394.7 1128.4,394.9 1128.4,395.0 1128.5,395.2 1128.6,395.2 1128.7,395.5 1128.7,395.5 1128.8,395.8 1128.8,395.9 1128.9,396.1 1128.9,396.2 1128.9,396.4 1129.0,396.5 1129.0,396.8 1129.0,396.8 1129.0,397.1 1129.0,397.2 1128.9,397.4 1128.9,397.5 1128.8,397.8 1128.8,397.8 1128.7,398.1 1128.7,398.1 1128.6,398.4 1128.6,398.4 1128.4,398.7 1128.4,398.7 1128.2,398.9 1128.2,399.0 1128.0,399.2 1128.0,399.2 1127.8,399.4 1127.7,399.5 1127.5,399.6 1127.5,399.7 1127.2,399.8 1127.2,399.8 1126.9,399.9 1126.9,400.0 1126.6,400.1 1126.6,400.1 1126.3,400.2 1126.2,400.2 1126.0,400.2 1125.9,400.2 1125.7,400.2 1125.6,400.2 1125.3,400.2 1125.2,400.2 1125.0,400.2 1124.9,400.2 1124.7,400.1 1124.6,400.1 1124.3,400.0 1124.3,400.0 1124.0,399.9 1124.0,399.8 1085.4,379.7 1085.4,379.7 1085.4,379.7 1084.9,380.0 1084.8,380.1 1084.7,380.1 1084.7,380.1 1082.0,380.8 1081.9,380.8 1081.8,380.8 1078.7,381.0 1078.6,381.0 1075.2,380.9 1075.1,380.9 1071.6,380.5 1071.5,380.5 1068.0,380.0 1068.0,380.0 1064.6,379.5 1064.5,379.5 1061.5,379.1 1061.4,379.1 1058.8,378.9 1058.8,378.9 1058.8,378.9 1056.8,379.1 1056.8,379.2 1056.7,379.2 1055.5,379.8 1055.4,379.8 1055.4,379.9 1055.0,381.1 1055.0,381.1 1055.0,381.1 1055.5,383.1 1055.5,383.1 1055.5,383.1 1056.6,385.5 1056.6,385.5 1058.2,388.3 1059.7,391.2 1059.8,391.3 1061.1,394.0 1061.1,394.1 1061.6,395.5 1061.6,395.5 1061.6,395.5 1108.9,413.3 1108.9,413.3 1109.2,413.4 1109.3,413.4 1109.5,413.6 1109.5,413.6 1109.8,413.7 1109.8,413.8 1110.0,414.0 1110.1,414.0 1110.2,414.2 1110.3,414.3 1110.5,414.5 1110.5,414.5 1110.6,414.7 1110.7,414.8 1110.8,415.0 1110.8,415.1 1110.9,415.3 1111.0,415.4 1111.0,415.7 1111.0,415.7 1111.1,416.0 1111.1,416.1 1111.1,416.3 1111.1,416.4 1111.1,416.6 1111.1,416.7 1111.1,417.0 1111.1,417.1 1111.0,417.3 1111.0,417.4 1110.9,417.6 1110.9,417.7 1110.8,417.9 1110.8,418.0 1110.6,418.2 1110.6,418.3 1110.4,418.5 1110.4,418.6 1110.2,418.8 1110.2,418.8 1110.0,419.0 1109.9,419.0 1109.7,419.2 1109.7,419.2 1109.5,419.4 1109.4,419.4 1109.2,419.5 1109.1,419.6 1108.9,419.7 1108.8,419.7 1108.5,419.8 1108.5,419.8 1108.2,419.8 1108.1,419.8 1107.9,419.9 1107.8,419.9 1107.5,419.9 1107.5,419.9 1107.2,419.8 1107.1,419.8 1106.9,419.8 1106.8,419.7 1106.5,419.7 1106.5,419.6 1058.7,401.7 1058.7,401.7 1058.7,401.7 1056.3,402.4 1056.2,402.4 1053.1,402.8 1053.0,402.8 1049.6,403.2 1049.6,403.2 1046.2,403.5 1046.2,403.5 1043.1,403.9 1043.0,403.9 1040.4,404.6 1040.4,404.6 1040.4,404.6 1038.4,405.6 1038.4,405.6 1038.4,405.6 1037.4,407.1 1037.4,407.1 1037.4,407.1 1037.2,409.1 1037.2,409.1 1037.2,409.1 1037.7,411.4 1037.7,411.5 1038.7,414.1 1038.7,414.1 1040.0,417.0 1041.3,420.0 1041.3,420.0 1042.4,423.0 1042.5,423.1 1043.3,426.0 1043.3,426.0 1043.3,426.1 1043.6,428.8 1043.6,428.9 1043.6,428.9 1043.6,429.0 1043.2,431.1 1043.2,431.1 1043.2,431.1 1093.0,447.1 1093.0,447.1 1093.3,447.2 1093.4,447.2 1093.6,447.3 1093.7,447.4 1093.9,447.5 1093.9,447.5 1094.1,447.7 1094.2,447.7 1094.4,447.9 1094.4,448.0 1094.6,448.2 1094.7,448.2 1094.8,448.4 1094.9,448.5 1095.0,448.7 1095.0,448.8 1095.1,449.0 1095.1,449.1 1095.2,449.3 1095.3,449.4 1095.3,449.7 1095.3,449.7 1095.4,450.0 1095.4,450.1 1095.4,450.3 1095.4,450.4 1095.4,450.7 1095.3,450.7 1095.3,451.0 1095.3,451.1 1095.2,451.3 1095.2,451.4 1095.1,451.6 1095.1,451.7 1095.0,451.9 1094.9,452.0 1094.8,452.2 1094.7,452.3 1094.6,452.5 1094.5,452.5 1094.4,452.7 1094.3,452.8 1094.1,452.9 1094.1,453.0 1093.9,453.1 1093.8,453.2 1093.6,453.3 1093.5,453.3 1093.3,453.5 1093.2,453.5 1092.9,453.6 1092.9,453.6 1092.6,453.6 1092.5,453.7 1092.3,453.7 1092.2,453.7 1092.0,453.7 1091.9,453.7 1091.6,453.7 1091.6,453.7 1091.3,453.6 1091.2,453.6 1091.0,453.5 1090.9,453.5 1039.0,436.9 1039.0,436.9 1039.0,436.9 1037.6,438.0 1037.5,438.1 1034.8,439.8 1034.7,439.9 1031.7,441.5 1031.6,441.5 1028.4,443.0 1028.4,443.0 1025.2,444.3 1025.2,444.3 1022.1,445.6 1022.0,445.6 1019.2,446.8 1019.2,446.9 1016.7,448.0 1016.7,448.0 1014.8,449.2 1014.8,449.2 1014.8,449.2 1013.5,450.3 1013.5,450.4 1013.5,450.4 1013.0,451.5 1013.0,451.6 Z " fill="rgba(255,250,244,0.18)" fill-rule="evenodd" stroke="#1b1714" stroke-width="1.9" stroke-linejoin="round"/>
<path d="M1179.2,524.0 L1147.0,500.0 M1225.2,499.3 L1156.9,476.2 M1269.8,440.4 L1195.2,395.2 M1280.5,408.8 L1200.0,385.0 M1271.5,382.8 L1200.0,385.0 M1252.8,364.8 L1200.0,385.0 M1235.7,347.2 L1200.0,385.0 M1201.9,343.8 L1200.0,385.0 M1178.2,356.2 L1200.0,385.0 M1158.0,366.5 L1200.0,385.0 M1125.6,396.8 L1176.2,423.2 M1107.7,416.5 L1168.9,439.4 M1092.0,450.3 L1158.5,471.6 M1081.5,487.2 L1147.0,500.0 M1098.0,507.2 L1147.0,500.0" fill="none" stroke="#1b1714" stroke-width="1.8" stroke-linecap="round"/>
<path d="M1147.0,500.0 1151.8,490.0 1155.7,479.7 1159.2,469.3 1162.4,458.7 1165.8,448.2 1169.6,437.8 1174.1,427.7 1179.2,418.0 1185.2,408.7 1192.0,400.0" fill="none" stroke="#1b1714" stroke-width="2.8"/>
<ellipse cx="1153" cy="443" rx="10" ry="6" transform="rotate(-20 1153 443)" fill="rgba(255,250,244,0.4)" stroke="#1b1714" stroke-width="1.7"/>
<ellipse cx="1136" cy="464" rx="9" ry="5" transform="rotate(-10 1136 464)" fill="rgba(255,250,244,0.4)" stroke="#1b1714" stroke-width="1.7"/>
<ellipse cx="1133" cy="481" rx="7" ry="4" transform="rotate(0 1133 481)" fill="rgba(255,250,244,0.4)" stroke="#1b1714" stroke-width="1.7"/>
<ellipse cx="1193" cy="456" rx="12" ry="6" transform="rotate(-15 1193 456)" fill="rgba(255,250,244,0.4)" stroke="#1b1714" stroke-width="1.7"/>
<ellipse cx="1188" cy="470" rx="11" ry="6" transform="rotate(-10 1188 470)" fill="rgba(255,250,244,0.4)" stroke="#1b1714" stroke-width="1.7"/>
<ellipse cx="1183" cy="483" rx="9" ry="4" transform="rotate(-5 1183 483)" fill="rgba(255,250,244,0.4)" stroke="#1b1714" stroke-width="1.7"/>
<ellipse cx="1213" cy="390" rx="12" ry="6" transform="rotate(-25 1213 390)" fill="rgba(255,250,244,0.4)" stroke="#1b1714" stroke-width="1.7"/>
 <g fill="#8e4e52">
  <ellipse cx="1416" cy="611" rx="11" ry="7"/><ellipse cx="1418" cy="640" rx="9" ry="6"/>
  <ellipse cx="1327" cy="662" rx="10" ry="7"/><ellipse cx="1395" cy="662" rx="11" ry="7"/>
  <ellipse cx="1442" cy="675" rx="9" ry="8"/><ellipse cx="1375" cy="693" rx="11" ry="7"/>
 </g>
</g>
<path d="M438.0,301.6 446.3,302.7 456.9,302.9 467.5,303.3 477.9,303.9 488.4,304.6 498.8,305.5 509.1,306.5 519.4,307.6 529.6,308.9 539.8,310.3 549.9,311.9 560.0,313.6 570.1,315.4 580.1,317.4 590.0,319.5 599.9,321.7 609.8,324.1 619.6,326.6 629.3,329.2 639.0,331.9 648.7,334.8 658.3,337.7 667.9,340.8 677.4,344.0 686.9,347.4 696.4,350.8 705.8,354.3 715.1,358.0 724.4,361.7 733.7,365.5 742.9,369.5 752.1,373.6 761.3,377.7 770.4,382.0 779.5,386.3 788.5,390.7 797.5,395.2 806.5,399.9 815.4,404.6 824.2,409.3 833.1,414.2 841.9,419.2 850.7,424.2 859.4,429.3 868.1,434.5 876.7,439.7 885.3,445.1 893.9,450.5 902.5,455.9 911.0,461.5 919.5,467.1 927.9,472.7 936.3,478.4 944.7,484.2 953.1,490.1 961.4,496.0 969.7,501.9 977.9,507.9 986.2,514.0 994.4,520.1 1002.5,526.2 1010.7,532.4 1018.8,538.6 1026.8,544.9 1034.9,551.2 1043.0,557.5 1051.0,563.8 1059.0,570.1 1067.0,576.5 1075.0,582.8 1083.0,589.2 1091.1,595.5 1099.1,601.8 1107.1,608.1 1115.1,614.4 1123.1,620.6 1131.2,626.8 1139.3,633.0 1147.3,639.1 1155.5,645.2 1163.6,651.2 1171.8,657.1 1180.0,663.0 1188.2,668.8 1196.5,674.6 1204.8,680.2 1213.1,685.8 1221.5,691.3 1230.0,696.6 1238.5,701.9 1247.1,707.1 1255.7,712.1 1264.4,717.1 1273.1,721.9 1281.9,726.6 1290.8,731.1 1299.7,735.5 1308.8,739.8 1317.9,743.9 1327.1,747.8 1336.3,751.6 1345.7,755.3 1355.1,758.7 1364.7,762.0 1374.3,765.1 1384.0,768.0 1393.9,770.8 1403.8,773.3 1413.9,775.6 1424.0,777.7 1434.3,779.7 1445.0,778.0" fill="none" stroke="#fcfbf8" stroke-width="20"/>
<path d="M0.0,428.4 9.7,425.1 18.4,419.9 27.2,414.8 36.0,409.8 44.9,404.9 53.8,400.0 62.8,395.3 71.8,390.6 80.8,386.1 89.9,381.6 99.0,377.3 108.2,373.1 117.4,368.9 126.7,364.9 136.0,361.0 145.3,357.2 154.7,353.5 164.1,349.9 173.6,346.4 183.1,343.1 192.6,339.9 202.2,336.8 211.8,333.8 221.4,330.9 231.1,328.2 240.8,325.6 250.6,323.1 260.3,320.8 270.2,318.6 280.0,316.5 289.9,314.5 299.8,312.8 309.8,311.1 319.7,309.6 329.7,308.2 339.8,307.0 349.8,305.9 359.9,304.9 370.0,304.1 380.1,303.4 390.3,302.8 400.4,302.4 410.6,302.1 420.7,302.0 430.9,302.0 441.0,302.1 451.2,302.4 461.4,302.8 471.5,303.3 481.7,303.9 491.8,304.7 502.0,305.7 512.1,306.7 522.2,307.9 532.3,309.2 542.4,310.6 552.4,312.2 562.4,313.9 572.4,315.8 582.4,317.7 592.3,319.8 602.2,322.0 612.1,324.4 621.9,326.8 631.7,329.4 641.4,332.1 651.1,335.0 660.7,337.9 670.3,341.0 679.9,344.2 689.3,347.6 698.8,351.0 708.2,354.6 717.5,358.3 726.8,362.1 736.0,366.0 745.2,370.0 754.3,374.2 763.4,378.4 772.4,382.7 781.4,387.1 790.3,391.7 799.2,396.3 808.1,401.0 816.9,405.8 825.7,410.6 834.4,415.6 843.2,420.6 851.8,425.7 860.5,430.9 869.1,436.2 877.6,441.5 886.2,446.9 894.7,452.3 903.1,457.8 911.6,463.4 920.0,469.0 928.4,474.7 936.8,480.4 945.1,486.2 953.4,492.0 961.7,497.9 970.0,503.8 978.3,509.7 986.5,515.7 994.7,521.7 1003.0,527.7 1011.1,533.8 1019.3,539.9 1027.5,546.0 1035.6,552.1 1043.8,558.2 1051.9,564.4 1060.0,570.5 1068.1,576.7 1076.2,582.9 1084.3,589.1 1092.4,595.2 1100.5,601.4 1108.6,607.6 1116.7,613.7 1124.8,619.9 1132.8,626.0 1140.9,632.2 1149.0,638.3 1157.1,644.3 1165.2,650.4 1173.3,656.4 1181.4,662.4 1189.6,668.3 1197.8,674.2 1206.0,680.0 1214.2,685.7 1222.5,691.4 1230.8,696.9 1239.2,702.3 1247.6,707.7 1256.1,712.9 1264.7,718.0 1273.3,722.9 1282.0,727.8 1290.7,732.4 1299.6,736.9 1308.5,741.3 1317.5,745.4 1326.7,749.4 1335.9,753.2 1345.2,756.8 1354.7,760.1 1364.2,763.3 1373.9,766.2 1383.7,768.9 1393.6,771.4 1403.7,773.6 1413.9,775.5 1424.2,777.2 1434.7,778.6 1445.0,778.0 L1445,1318.5 L1445.0,1318.5 1436.1,1314.8 1426.1,1312.6 1416.1,1310.2 1406.1,1307.8 1396.2,1305.3 1386.3,1302.7 1376.5,1300.0 1366.7,1297.3 1356.9,1294.4 1347.2,1291.5 1337.5,1288.5 1327.8,1285.4 1318.2,1282.2 1308.6,1279.0 1299.1,1275.7 1289.5,1272.3 1280.0,1268.8 1270.6,1265.2 1261.2,1261.6 1251.8,1257.9 1242.4,1254.1 1233.1,1250.3 1223.8,1246.3 1214.6,1242.3 1205.4,1238.3 1196.2,1234.1 1187.0,1229.9 1177.9,1225.7 1168.8,1221.4 1159.8,1217.0 1150.8,1212.5 1141.8,1208.0 1132.8,1203.4 1123.9,1198.7 1115.0,1194.0 1106.1,1189.2 1097.3,1184.4 1088.5,1179.5 1079.7,1174.6 1071.0,1169.6 1062.3,1164.5 1053.6,1159.4 1045.0,1154.2 1036.3,1149.0 1027.7,1143.7 1019.2,1138.4 1010.7,1133.0 1002.2,1127.6 993.7,1122.1 985.2,1116.5 976.8,1111.0 968.4,1105.3 960.1,1099.7 951.7,1094.0 943.4,1088.2 935.1,1082.4 926.9,1076.6 918.6,1070.8 910.4,1064.9 902.2,1058.9 894.0,1053.0 885.9,1047.0 877.7,1041.0 869.6,1034.9 861.5,1028.9 853.4,1022.8 845.3,1016.7 837.3,1010.5 829.2,1004.4 821.2,998.2 813.2,992.0 805.2,985.8 797.2,979.6 789.2,973.4 781.2,967.1 773.2,960.9 765.3,954.6 757.3,948.4 749.4,942.1 741.5,935.8 733.5,929.6 725.6,923.3 717.7,917.0 709.8,910.8 701.9,904.5 693.9,898.2 686.0,892.0 678.1,885.8 670.2,879.5 662.3,873.3 654.4,867.1 646.5,860.9 638.5,854.8 630.6,848.6 622.7,842.5 614.7,836.4 604.5,833.0 L0,989.6 Z" fill="#151515"/>
<path d="M0.0,428.4 9.7,425.1 18.4,419.9 27.2,414.8 36.0,409.8 44.9,404.9 53.8,400.0 62.8,395.3 71.8,390.6 80.8,386.1 89.9,381.6 99.0,377.3 108.2,373.1 117.4,368.9 126.7,364.9 136.0,361.0 145.3,357.2 154.7,353.5 164.1,349.9 173.6,346.4 183.1,343.1 192.6,339.9 202.2,336.8 211.8,333.8 221.4,330.9 231.1,328.2 240.8,325.6 250.6,323.1 260.3,320.8 270.2,318.6 280.0,316.5 289.9,314.5 299.8,312.8 309.8,311.1 319.7,309.6 329.7,308.2 339.8,307.0 349.8,305.9 359.9,304.9 370.0,304.1 380.1,303.4 390.3,302.8 400.4,302.4 410.6,302.1 420.7,302.0 430.9,302.0 441.0,302.1 451.2,302.4 461.4,302.8 471.5,303.3 481.7,303.9 491.8,304.7 502.0,305.7 512.1,306.7 522.2,307.9 532.3,309.2 542.4,310.6 552.4,312.2 562.4,313.9 572.4,315.8 582.4,317.7 592.3,319.8 602.2,322.0 612.1,324.4 621.9,326.8 631.7,329.4 641.4,332.1 651.1,335.0 660.7,337.9 670.3,341.0 679.9,344.2 689.3,347.6 698.8,351.0 708.2,354.6 717.5,358.3 726.8,362.1 736.0,366.0 745.2,370.0 754.3,374.2 763.4,378.4 772.4,382.7 781.4,387.1 790.3,391.7 799.2,396.3 808.1,401.0 816.9,405.8 825.7,410.6 834.4,415.6 843.2,420.6 851.8,425.7 860.5,430.9 869.1,436.2 877.6,441.5 886.2,446.9 894.7,452.3 903.1,457.8 911.6,463.4 920.0,469.0 928.4,474.7 936.8,480.4 945.1,486.2 953.4,492.0 961.7,497.9 970.0,503.8 978.3,509.7 986.5,515.7 994.7,521.7 1003.0,527.7 1011.1,533.8 1019.3,539.9 1027.5,546.0 1035.6,552.1 1043.8,558.2 1051.9,564.4 1060.0,570.5 1068.1,576.7 1076.2,582.9 1084.3,589.1 1092.4,595.2 1100.5,601.4 1108.6,607.6 1116.7,613.7 1124.8,619.9 1132.8,626.0 1140.9,632.2 1149.0,638.3 1157.1,644.3 1165.2,650.4 1173.3,656.4 1181.4,662.4 1189.6,668.3 1197.8,674.2 1206.0,680.0 1214.2,685.7 1222.5,691.4 1230.8,696.9 1239.2,702.3 1247.6,707.7 1256.1,712.9 1264.7,718.0 1273.3,722.9 1282.0,727.8 1290.7,732.4 1299.6,736.9 1308.5,741.3 1317.5,745.4 1326.7,749.4 1335.9,753.2 1345.2,756.8 1354.7,760.1 1364.2,763.3 1373.9,766.2 1383.7,768.9 1393.6,771.4 1403.7,773.6 1413.9,775.5 1424.2,777.2 1434.7,778.6 1445.0,778.0 L1445,927 L1445.0,927.0 1435.4,926.3 1425.2,925.5 1415.0,924.5 1404.8,923.3 1394.6,921.9 1384.5,920.4 1374.4,918.8 1364.3,917.0 1354.3,915.0 1344.4,912.9 1334.4,910.6 1324.6,908.1 1314.7,905.5 1305.0,902.8 1295.2,899.9 1285.6,896.9 1276.0,893.7 1266.5,890.3 1257.0,886.8 1247.6,883.2 1238.3,879.4 1229.0,875.5 1219.8,871.4 1210.7,867.2 1201.7,862.9 1192.8,858.4 1183.9,853.8 1175.2,849.1 1166.5,844.2 1157.9,839.2 1149.4,834.0 1140.9,828.8 1132.6,823.4 1124.3,817.9 1116.0,812.4 1107.8,806.7 1099.7,801.0 1091.6,795.1 1083.6,789.2 1075.6,783.2 1067.7,777.2 1059.8,771.0 1051.9,764.9 1044.0,758.6 1036.2,752.4 1028.4,746.0 1020.6,739.7 1012.8,733.3 1005.0,726.9 997.3,720.5 989.5,714.0 981.7,707.6 973.9,701.1 966.1,694.6 958.3,688.2 950.4,681.8 942.6,675.3 934.7,668.9 926.8,662.6 918.8,656.2 910.8,649.9 902.8,643.6 894.8,637.3 886.8,631.1 878.7,624.9 870.6,618.8 862.4,612.7 854.2,606.6 846.0,600.6 837.8,594.7 829.5,588.8 821.2,583.0 812.9,577.2 804.5,571.5 796.1,565.8 787.6,560.3 779.1,554.8 770.6,549.3 762.0,544.0 753.4,538.7 744.8,533.5 736.1,528.4 727.4,523.4 718.6,518.5 709.8,513.7 700.9,509.0 692.0,504.3 683.1,499.8 674.1,495.4 665.1,491.1 656.0,486.9 646.8,482.8 637.7,478.8 628.4,475.0 619.2,471.2 609.8,467.6 600.5,464.1 591.0,460.8 581.6,457.6 572.0,454.5 562.4,451.5 552.8,448.7 543.1,446.1 533.4,443.6 523.6,441.2 513.7,439.0 503.9,436.9 494.0,435.0 484.0,433.2 474.1,431.5 464.1,430.0 454.0,428.7 444.0,427.5 433.9,426.5 423.8,425.6 413.8,424.8 403.6,424.3 393.5,423.8 383.4,423.6 373.3,423.5 363.2,423.5 353.1,423.7 343.0,424.1 332.9,424.6 322.8,425.3 312.7,426.1 302.7,427.2 292.7,428.3 282.7,429.7 272.7,431.2 262.7,432.9 252.8,434.7 243.0,436.7 233.1,438.9 223.3,441.2 213.6,443.7 203.9,446.3 194.2,449.1 184.5,452.0 174.9,455.1 165.4,458.3 155.9,461.6 146.4,465.0 136.9,468.6 127.5,472.3 118.2,476.1 108.9,480.0 99.6,484.0 90.4,488.1 81.2,492.3 72.0,496.6 62.9,501.0 53.8,505.5 44.8,510.0 35.9,514.7 26.9,519.3 18.0,524.1 9.2,528.9 0.0,533.0 Z" fill="url(#archg)"/>
<g clip-path="url(#archclip2)" mask="url(#archmask)"><rect x="0" y="280" width="700" height="300" filter="url(#nz)" opacity="0.06"/></g>
<path d="M0.0,533.0 9.3,530.4 18.1,524.8 27.0,519.3 35.9,514.0 44.9,508.8 54.0,503.8 63.2,499.0 72.4,494.3 81.6,489.8 91.0,485.4 100.3,481.2 109.7,477.1 119.2,473.2 128.7,469.5 138.3,465.9 147.9,462.4 157.6,459.1 167.3,456.0 177.0,453.0 186.8,450.2 196.6,447.5 206.4,445.0 216.3,442.6 226.2,440.4 236.2,438.4 246.1,436.4 256.1,434.7 266.1,433.1 276.1,431.6 286.2,430.3 296.2,429.1 306.3,428.1 316.4,427.2 326.5,426.5 336.6,425.9 346.7,425.5 356.9,425.2 367.0,425.1 377.1,425.1 387.3,425.3 397.4,425.6 407.5,426.1 417.6,426.7 427.7,427.4 437.8,428.3 447.9,429.4 458.0,430.6 468.1,431.9 478.1,433.4 488.1,435.0 498.1,436.7 508.1,438.6 518.1,440.6 528.0,442.8 537.9,445.1 547.8,447.6 557.6,450.2 567.5,452.9 577.2,455.7 587.0,458.7 596.7,461.9 606.3,465.1 615.9,468.5 625.5,472.1 635.0,475.8 644.5,479.6 653.9,483.5 663.3,487.6 672.6,491.8 681.8,496.1 691.0,500.5 700.2,505.1 709.2,509.8 718.3,514.7 727.2,519.7 736.1,524.8 744.9,530.0 753.6,535.4 762.3,540.8 770.9,546.4 779.4,552.2 787.8,558.0 796.2,564.0 804.4,570.1 812.6,576.3 820.7,582.7 828.7,589.2 836.6,595.7 844.5,602.5 852.2,609.3 860.0,615.0 L860.0,615.0 855.0,606.4 848.3,597.5 841.4,589.2 834.2,581.4 826.8,574.2 819.2,567.4 811.3,561.2 803.3,555.4 795.0,550.2 786.6,545.3 778.0,540.9 769.2,536.9 760.3,533.3 751.2,530.0 742.0,527.2 732.6,524.6 723.1,522.4 713.5,520.5 703.7,518.8 693.9,517.5 684.0,516.4 673.9,515.5 663.8,514.8 653.7,514.4 643.4,514.1 633.1,514.0 622.8,514.0 612.4,514.2 602.0,514.4 591.6,514.8 581.1,515.2 570.7,515.7 560.2,516.3 549.8,516.8 539.4,517.4 529.0,517.9 518.6,518.4 508.3,518.9 498.1,519.4 487.8,519.8 477.6,520.3 467.4,520.7 457.3,521.1 447.2,521.5 437.1,522.0 427.0,522.4 417.0,522.9 407.0,523.4 397.0,524.0 387.0,524.6 377.0,525.2 367.1,525.9 357.2,526.7 347.3,527.5 337.4,528.4 327.5,529.4 317.6,530.5 307.7,531.6 297.9,532.9 288.0,534.3 278.2,535.8 268.3,537.4 258.5,539.1 248.6,540.9 238.8,542.9 228.9,545.0 219.1,547.2 209.3,549.6 199.5,552.0 189.7,554.6 179.9,557.3 170.1,560.1 160.4,563.0 150.7,566.0 141.0,569.2 131.3,572.4 121.7,575.7 112.1,579.1 102.5,582.6 93.0,586.2 83.5,589.9 74.0,593.7 64.6,597.6 55.3,601.5 46.0,605.5 36.7,609.6 27.5,613.8 18.4,618.1 9.3,622.4 0.0,626.0 Z" fill="#0b0b0b"/>
<path d="M253.0,435.0 261.7,429.4 270.9,425.3 280.2,421.6 289.6,418.4 299.2,415.6 308.9,413.3 318.7,411.3 328.5,409.6 338.5,408.2 348.5,407.2 358.6,406.4 368.7,405.9 378.8,405.6 389.0,405.5 399.1,405.6 409.3,405.9 419.4,406.3 429.6,406.9 439.7,407.7 449.8,408.6 459.9,409.7 469.9,411.1 480.0,412.5 489.9,414.2 499.9,416.0 509.8,418.0 519.7,420.2 529.5,422.6 539.2,425.1 548.9,427.8 558.6,430.7 568.1,433.7 577.7,436.9 587.2,440.2 596.6,443.7 606.0,447.4 615.3,451.1 624.6,455.0 633.8,459.1 643.0,463.2 652.1,467.5 661.2,471.9 670.2,476.4 679.2,481.0 688.1,485.8 697.0,490.6 705.9,495.5 714.7,500.5 723.4,505.6 732.1,510.7 740.8,516.0 749.4,521.3 758.0,526.7 766.6,532.1 775.1,537.7 783.5,543.2 792.0,548.8 800.3,554.5 808.7,560.2 817.0,565.9 825.3,571.6 833.6,577.4 841.9,583.2 850.2,588.9 858.5,594.7 866.7,600.4 875.0,606.2 883.3,611.9 891.6,617.6 899.9,623.4 908.1,629.1 916.3,634.9 924.5,640.8 932.7,646.6 940.8,652.6 948.9,658.6 956.9,664.7 964.9,670.9 972.8,677.1 980.7,683.4 988.5,689.7 996.4,696.1 1004.2,702.5 1012.0,708.9 1019.8,715.4 1027.5,721.8 1035.3,728.3 1043.1,734.7 1050.9,741.1 1058.8,747.5 1066.6,753.8 1074.5,760.1 1082.4,766.3 1090.4,772.4 1098.4,778.5 1106.5,784.5 1114.7,790.4 1122.9,796.2 1131.2,801.8 1139.5,807.4 1148.0,812.8 1156.5,818.0 1165.2,823.2 1173.9,828.1 1182.8,832.9 1191.8,837.5 1200.8,842.0 1210.0,846.3 1219.3,850.4 1228.7,854.3 1238.1,858.1 1247.6,861.7 1257.2,865.2 1266.8,868.5 1276.5,871.7 1286.3,874.7 1296.1,877.6 1305.9,880.3 1315.8,882.9 1325.7,885.4 1335.7,887.7 1345.6,889.8 1355.6,891.9 1365.5,893.8 1375.5,895.6 1385.4,897.2 1395.4,898.7 1405.3,900.1 1415.2,901.4 1425.1,902.6 1434.9,903.6 1445.0,904.0 L1445,927 L1445.0,927.0 1435.1,926.5 1424.9,925.6 1414.8,924.5 1404.7,923.3 1394.6,921.9 1384.6,920.3 1374.6,918.6 1364.6,916.7 1354.7,914.7 1344.9,912.5 1335.0,910.2 1325.3,907.7 1315.5,905.1 1305.8,902.3 1296.2,899.4 1286.6,896.3 1277.1,893.1 1267.6,889.7 1258.1,886.3 1248.7,882.6 1239.4,878.9 1230.1,875.0 1220.9,871.0 1211.7,866.8 1202.6,862.5 1193.6,858.1 1184.6,853.6 1175.6,849.0 1166.8,844.2 1158.0,839.3 1149.2,834.3 1140.6,829.2 1131.9,824.0 1123.4,818.6 1114.9,813.2 1106.5,807.6 1098.2,802.0 1090.0,796.2 1081.8,790.3 1073.7,784.3 1065.6,778.3 1057.6,772.1 1049.7,765.9 1041.9,759.6 1034.0,753.2 1026.3,746.8 1018.5,740.3 1010.8,733.8 1003.1,727.3 995.4,720.7 987.8,714.2 980.1,707.6 972.5,701.0 964.8,694.5 957.1,687.9 949.5,681.4 941.8,674.9 934.0,668.4 926.3,662.0 918.5,655.6 910.7,649.3 902.9,643.0 895.0,636.7 887.1,630.5 879.2,624.3 871.2,618.2 863.2,612.1 855.2,606.0 847.1,600.1 839.0,594.1 830.8,588.3 822.6,582.5 814.3,576.7 806.0,571.1 797.6,565.5 789.2,560.0 780.7,554.5 772.1,549.1 763.5,543.8 754.8,538.6 746.1,533.5 737.3,528.5 728.5,523.5 719.6,518.7 710.7,513.9 701.7,509.3 692.6,504.7 683.5,500.2 674.4,495.9 665.2,491.6 656.0,487.4 646.7,483.4 637.4,479.5 628.0,475.6 618.6,471.9 609.2,468.3 599.7,464.9 590.2,461.5 580.6,458.3 571.1,455.2 561.4,452.2 551.8,449.3 542.1,446.6 532.4,444.0 522.6,441.6 512.9,439.3 503.1,437.1 493.2,435.1 483.4,433.2 473.5,431.5 463.6,429.9 453.7,428.4 443.7,427.1 433.8,426.0 423.8,425.0 413.8,424.2 403.8,423.6 393.8,423.1 383.7,422.7 373.7,422.6 363.6,422.6 353.5,422.8 343.4,423.1 333.3,423.6 323.2,424.4 313.1,425.2 303.0,426.3 292.9,427.6 282.8,429.0 272.7,430.6 262.6,432.5 253.0,435.0 Z" fill="#1f1f1f"/>
<path d="M340.0,722.0 348.3,717.3 357.0,712.0 365.8,706.9 374.7,701.9 383.9,697.1 393.1,692.5 402.5,688.0 412.0,683.8 421.6,679.8 431.3,676.1 441.0,672.7 450.8,669.5 460.7,666.6 470.6,664.0 480.6,661.8 490.6,659.9 500.6,658.4 510.6,657.2 520.5,656.3 530.5,655.8 540.5,655.6 550.4,655.8 560.3,656.3 570.1,657.2 579.9,658.4 589.6,660.0 599.2,662.0 608.8,664.3 618.2,667.0 627.6,670.1 636.8,673.5 646.0,677.3 655.0,681.5 663.9,686.0 672.7,690.8 681.3,695.8 689.9,701.2 698.4,706.8 706.8,712.6 715.2,718.5 723.4,724.7 731.6,730.9 739.7,737.3 747.7,743.8 755.7,750.4 763.6,757.0 771.5,763.6 779.3,770.2 787.1,776.8 794.8,783.4 802.5,790.1 810.2,796.7 817.8,803.3 825.4,810.0 833.0,816.7 840.6,823.3 848.1,830.0 855.6,836.7 863.2,843.4 870.7,850.1 878.2,856.8 885.7,863.6 893.2,870.3 900.7,877.1 908.2,883.8 915.7,890.6 923.2,897.4 930.8,904.2 938.3,910.9 945.9,917.7 953.6,924.4 961.2,931.1 968.9,937.8 976.6,944.4 984.3,950.9 992.1,957.4 1000.0,963.9 1007.9,970.3 1015.8,976.6 1023.8,982.8 1031.8,988.9 1039.9,994.9 1048.1,1000.8 1056.3,1006.7 1064.6,1012.4 1073.0,1017.9 1081.4,1023.4 1090.0,1028.7 1098.6,1033.9 1107.2,1038.9 1116.0,1043.7 1124.9,1048.4 1133.8,1053.0 1142.9,1057.3 1152.0,1061.5 1161.3,1065.6 1170.6,1069.4 1179.9,1073.2 1189.4,1076.8 1198.9,1080.2 1208.5,1083.6 1218.1,1086.8 1227.8,1089.9 1237.5,1092.9 1247.3,1095.7 1257.1,1098.5 1266.9,1101.2 1276.8,1103.8 1286.7,1106.3 1296.6,1108.7 1306.6,1111.1 1316.5,1113.4 1326.5,1115.6 1336.4,1117.8 1346.4,1119.9 1356.3,1122.0 1366.2,1124.1 1376.2,1126.1 1386.1,1128.1 1395.9,1130.1 1405.8,1132.0 1415.6,1134.0 1425.3,1135.9 1435.1,1137.9 1445.0,1140.0 L1445,1140 L1445,1296 L1454.3,1298.6 1444.9,1294.3 1434.6,1291.9 1426.6,1290.1 1418.6,1288.2 1410.7,1286.3 1402.8,1284.3 1394.9,1282.2 1387.0,1280.1 1379.1,1277.9 1371.3,1275.7 1363.5,1273.4 1355.7,1271.1 1347.9,1268.7 1340.2,1266.3 1332.5,1263.8 1324.8,1261.2 1317.1,1258.6 1309.4,1256.0 1301.8,1253.3 1294.2,1250.5 1286.6,1247.7 1279.0,1244.9 1271.5,1242.0 1264.0,1239.1 1256.5,1236.1 1249.0,1233.0 1241.5,1229.9 1234.1,1226.8 1226.7,1223.6 1219.3,1220.4 1211.9,1217.1 1204.5,1213.8 1197.2,1210.4 1189.9,1207.0 1182.6,1203.5 1175.3,1200.0 1168.0,1196.5 1160.8,1192.9 1153.6,1189.3 1146.4,1185.6 1139.2,1181.9 1132.1,1178.2 1124.9,1174.4 1117.8,1170.5 1110.7,1166.7 1103.6,1162.8 1096.6,1158.8 1089.5,1154.8 1082.5,1150.8 1075.5,1146.7 1068.5,1142.6 1061.5,1138.5 1054.6,1134.3 1047.7,1130.1 1040.7,1125.9 1033.8,1121.6 1027.0,1117.3 1020.1,1112.9 1013.3,1108.6 1006.5,1104.1 999.7,1099.7 992.9,1095.2 986.1,1090.7 979.3,1086.2 972.6,1081.6 965.9,1077.0 959.1,1072.4 952.5,1067.7 945.8,1063.0 939.1,1058.3 932.4,1053.6 925.8,1048.8 919.1,1044.1 912.5,1039.3 905.9,1034.4 899.3,1029.6 892.7,1024.7 886.1,1019.8 879.6,1014.9 873.0,1010.0 866.5,1005.1 859.9,1000.1 853.4,995.1 846.8,990.2 840.3,985.2 833.8,980.1 827.3,975.1 820.8,970.1 814.3,965.0 807.8,960.0 801.3,954.9 794.8,949.9 788.4,944.8 781.9,939.7 775.4,934.6 769.0,929.5 762.5,924.4 756.0,919.3 749.6,914.2 743.1,909.1 736.7,904.0 730.2,898.9 723.7,893.8 717.3,888.7 710.8,883.6 704.4,878.5 697.9,873.4 691.5,868.3 685.0,863.2 678.5,858.1 672.1,853.0 665.6,848.0 659.1,842.9 652.6,837.9 646.2,832.8 L560.0,786.0 550.4,781.3 540.6,776.7 530.8,772.2 520.9,767.9 510.9,763.7 500.9,759.7 490.7,755.9 480.6,752.2 470.3,748.7 460.0,745.4 449.6,742.4 439.2,739.5 428.7,736.9 418.2,734.5 407.6,732.3 397.0,730.4 386.3,728.8 375.6,727.4 364.9,726.3 354.1,725.5 343.3,724.9 332.5,724.7 321.7,724.8 310.9,725.2 300.0,726.0 Z" fill="url(#wov)"/>
<g clip-path="url(#dimclip)"><rect x="0" y="280" width="1445" height="1046" filter="url(#nz)" opacity="0.07"/></g>
<path d="M0.0,626.0 9.3,622.6 18.4,619.0 27.6,615.4 36.8,611.7 46.1,607.8 55.4,604.0 64.8,600.1 74.2,596.2 83.6,592.3 93.1,588.3 102.6,584.4 112.1,580.6 121.7,576.8 131.3,573.0 140.9,569.4 150.6,565.8 160.3,562.3 170.0,559.0 179.7,555.7 189.4,552.7 199.2,549.8 209.0,547.1 218.7,544.5 228.5,542.2 238.3,540.1 248.1,538.2 257.9,536.6 267.8,535.3 277.6,534.2 287.4,533.2 297.3,532.5 307.1,531.9 317.0,531.5 326.9,531.1 336.8,530.8 346.7,530.5 356.7,530.2 366.7,529.9 376.7,529.6 386.8,529.1 396.9,528.6 407.0,527.9 417.2,527.1 427.4,526.3 437.6,525.4 447.9,524.5 458.1,523.5 468.4,522.4 478.7,521.4 489.0,520.4 499.3,519.3 509.6,518.3 519.9,517.3 530.2,516.4 540.5,515.5 550.8,514.7 561.1,513.9 571.3,513.3 581.6,512.7 591.8,512.3 602.0,512.0 612.1,511.8 622.2,511.8 632.3,512.0 642.4,512.3 652.4,512.8 662.3,513.6 672.2,514.5 682.1,515.7 691.9,517.1 701.6,518.8 711.3,520.7 720.9,522.9 730.4,525.3 739.9,528.1 749.3,531.2 758.6,534.6 767.8,538.4 776.9,542.5 785.9,547.0 794.7,551.8 803.3,557.0 811.7,562.6 819.7,568.6 827.5,575.0 834.9,581.9 841.9,589.2 848.5,596.8 855.1,604.6 861.7,612.2 868.7,619.5 876.1,626.3 883.7,632.7 891.7,638.8 899.8,644.7 908.1,650.5 916.5,656.1 925.0,661.6 933.5,667.1 941.9,672.7 950.3,678.5 958.5,684.4 966.5,690.5 974.4,696.7 982.2,703.2 989.9,709.7 997.5,716.4 1005.1,723.1 1012.6,729.9 1020.0,736.8 1027.5,743.7 1034.9,750.5 1042.4,757.4 1049.9,764.1 1057.4,770.9 1065.0,777.5 1072.8,784.0 1080.6,790.3 1088.5,796.6 1096.6,802.6 1104.8,808.5 1113.1,814.2 1121.5,819.8 1130.0,825.2 1138.6,830.5 1147.3,835.6 1156.1,840.6 1165.0,845.4 1173.9,850.1 1183.0,854.6 1192.1,859.0 1201.3,863.3 1210.6,867.4 1220.0,871.4 1229.4,875.2 1238.8,878.9 1248.4,882.5 1257.9,885.9 1267.6,889.2 1277.2,892.4 1286.9,895.4 1296.7,898.3 1306.5,901.1 1316.3,903.8 1326.1,906.4 1336.0,908.8 1345.8,911.1 1355.7,913.3 1365.6,915.4 1375.5,917.3 1385.4,919.2 1395.3,920.9 1405.2,922.6 1415.1,924.1 1424.9,925.5 1434.8,926.8 1445.0,927.0 L1445,1140 L1445.0,1140.0 1435.1,1137.7 1425.3,1136.1 1415.4,1134.5 1405.5,1132.8 1395.6,1131.1 1385.6,1129.3 1375.7,1127.4 1365.8,1125.5 1355.8,1123.5 1345.9,1121.4 1336.0,1119.2 1326.1,1117.0 1316.2,1114.7 1306.3,1112.3 1296.4,1109.8 1286.5,1107.2 1276.7,1104.6 1266.9,1101.8 1257.1,1099.0 1247.4,1096.0 1237.7,1093.0 1228.0,1089.8 1218.4,1086.5 1208.8,1083.2 1199.3,1079.7 1189.8,1076.1 1180.4,1072.4 1171.1,1068.6 1161.8,1064.6 1152.5,1060.6 1143.4,1056.4 1134.3,1052.0 1125.3,1047.6 1116.3,1043.0 1107.5,1038.3 1098.7,1033.4 1090.0,1028.4 1081.4,1023.3 1072.9,1018.0 1064.4,1012.6 1056.1,1007.0 1047.8,1001.3 1039.7,995.5 1031.6,989.6 1023.5,983.5 1015.6,977.4 1007.6,971.2 999.8,964.8 992.0,958.4 984.2,951.9 976.5,945.4 968.9,938.8 961.3,932.1 953.7,925.3 946.1,918.6 938.6,911.7 931.0,904.9 923.5,898.0 916.0,891.1 908.6,884.2 901.1,877.2 893.6,870.3 886.1,863.4 878.7,856.5 871.2,849.6 863.6,842.7 856.1,835.9 848.6,829.1 841.0,822.3 833.3,815.6 825.7,808.9 818.0,802.3 810.3,795.8 802.5,789.3 794.6,782.9 786.7,776.7 778.8,770.4 770.8,764.3 762.7,758.3 754.5,752.4 746.3,746.6 738.1,740.8 729.9,735.1 721.6,729.3 713.4,723.6 705.1,717.7 696.9,711.9 688.8,705.9 680.6,700.0 672.4,694.1 664.2,688.3 656.0,682.6 647.7,677.0 639.2,671.6 630.7,666.5 622.0,661.7 613.2,657.1 604.2,652.9 595.1,648.8 585.9,645.0 576.6,641.3 567.2,637.8 557.7,634.4 548.1,631.1 538.5,628.0 528.8,624.9 519.1,621.9 509.3,619.1 499.4,616.4 489.5,613.8 479.6,611.4 469.6,609.1 459.6,606.9 449.6,604.9 439.5,603.0 429.4,601.3 419.3,599.7 409.2,598.3 399.1,597.1 388.9,596.0 378.8,595.1 368.7,594.4 358.6,593.8 348.5,593.4 338.4,593.3 328.3,593.3 318.2,593.5 308.2,593.9 298.2,594.6 288.2,595.4 278.3,596.5 268.4,597.8 258.6,599.4 248.8,601.2 239.0,603.2 229.3,605.5 219.7,608.0 210.1,610.8 200.5,613.8 191.1,617.2 181.7,620.8 172.4,624.7 163.1,628.8 153.9,633.2 144.8,637.9 135.7,642.7 126.7,647.6 117.7,652.7 108.8,657.8 99.8,663.0 90.9,668.2 81.9,673.3 73.0,678.4 64.0,683.3 55.0,688.1 46.0,692.8 36.9,697.2 27.8,701.3 18.6,705.2 9.3,708.8 0.0,712.0 Z" fill="#202020"/>
<g clip-path="url(#foamclip)"><rect x="0" y="280" width="1445" height="1046" filter="url(#nzF)" opacity="0.15"/></g>
<g clip-path="url(#foamclip)"><path d="M860.0,615.0 869.3,619.7 877.8,625.4 886.2,631.1 894.6,636.9 902.9,642.9 911.1,649.0 919.2,655.1 927.3,661.4 935.4,667.7 943.4,674.1 951.4,680.5 959.3,687.0 967.2,693.6 975.1,700.1 983.0,706.8 990.8,713.4 998.7,720.0 1006.5,726.7 1014.3,733.3 1022.2,740.0 1030.0,746.6 1037.9,753.2 1045.8,759.7 1053.7,766.2 1061.7,772.7 1069.7,779.0 1077.7,785.4 1085.8,791.6 1094.0,797.8 1102.2,803.8 1110.4,809.8 1118.7,815.7 1127.1,821.4 1135.6,827.0 1144.2,832.5 1152.8,837.9 1161.6,843.0 1170.4,848.1 1179.4,852.9 1188.5,857.6 1197.6,862.2 1206.9,866.5 1216.3,870.7 1225.7,874.7 1235.2,878.6 1244.8,882.3 1254.5,885.9 1264.3,889.3 1274.1,892.5 1283.9,895.6 1293.9,898.6 1303.8,901.4 1313.8,904.1 1323.8,906.7 1333.9,909.1 1344.0,911.4 1354.1,913.5 1364.2,915.6 1374.3,917.5 1384.5,919.3 1394.6,920.9 1404.7,922.5 1414.8,924.0 1424.8,925.3 1434.9,926.5 1445.0,927.0 L1445,1062 L1445.0,1062.0 1434.8,1061.1 1424.5,1060.5 1414.2,1059.8 1404.0,1059.0 1393.8,1058.0 1383.6,1056.9 1373.5,1055.6 1363.4,1054.2 1353.4,1052.6 1343.4,1050.8 1333.5,1048.9 1323.6,1046.7 1313.8,1044.4 1304.0,1041.9 1294.2,1039.2 1284.5,1036.3 1274.8,1033.2 1265.1,1030.0 1255.5,1026.5 1245.9,1023.0 1236.4,1019.2 1226.8,1015.4 1217.3,1011.5 1207.8,1007.5 1198.4,1003.4 1188.9,999.2 1179.4,995.0 1170.0,990.8 1160.6,986.5 1151.2,982.1 1141.9,977.7 1132.7,973.1 1123.7,968.4 1114.7,963.5 1106.0,958.4 1097.4,953.1 1089.0,947.5 1080.9,941.6 1073.0,935.5 1065.4,929.1 1057.9,922.4 1050.8,915.5 1043.8,908.3 1037.0,901.0 1030.4,893.4 1023.9,885.6 1017.6,877.7 1011.4,869.6 1005.4,861.3 999.5,852.9 993.7,844.4 988.0,835.8 982.4,827.1 976.8,818.3 971.3,809.5 965.8,800.6 960.4,791.7 954.9,782.8 949.5,773.9 944.1,765.0 938.6,756.1 933.1,747.3 927.6,738.5 922.0,729.8 916.3,721.2 910.6,712.7 904.7,704.3 898.7,696.1 892.7,688.0 886.4,680.0 880.1,672.3 873.5,664.7 866.8,657.3 860.0,650.0 Z" fill="#000" opacity="0.45" filter="url(#blur12)"/></g>
<path d="M0.0,812.0 9.3,807.6 18.3,802.9 27.4,798.3 36.6,793.9 45.8,789.5 55.2,785.3 64.6,781.2 74.0,777.3 83.6,773.4 93.1,769.7 102.8,766.1 112.5,762.7 122.3,759.4 132.1,756.2 141.9,753.2 151.8,750.3 161.7,747.6 171.7,745.0 181.7,742.5 191.8,740.3 201.8,738.1 211.9,736.2 222.1,734.4 232.2,732.7 242.4,731.2 252.5,729.9 262.7,728.8 272.9,727.8 283.1,727.0 293.3,726.4 303.6,726.0 313.8,725.8 324.0,725.7 334.2,725.8 344.4,726.1 354.5,726.7 364.7,727.4 374.8,728.3 385.0,729.4 395.1,730.7 405.1,732.2 415.2,734.0 425.2,735.9 435.1,738.1 445.1,740.4 455.0,743.0 464.8,745.8 474.6,748.9 484.3,752.1 494.0,755.6 503.7,759.3 513.3,763.3 522.8,767.5 532.2,771.9 541.6,776.5 551.0,781.5 560.0,786.0 L646.2,832.8 652.6,837.9 659.1,842.9 665.6,848.0 672.1,853.0 678.5,858.1 685.0,863.2 691.5,868.3 697.9,873.4 704.4,878.5 710.8,883.6 717.3,888.7 723.7,893.8 730.2,898.9 736.7,904.0 743.1,909.1 749.6,914.2 756.0,919.3 762.5,924.4 769.0,929.5 775.4,934.6 781.9,939.7 788.4,944.8 794.8,949.9 801.3,954.9 807.8,960.0 814.3,965.0 820.8,970.1 827.3,975.1 833.8,980.1 840.3,985.2 846.8,990.2 853.4,995.1 859.9,1000.1 866.5,1005.1 873.0,1010.0 879.6,1014.9 886.1,1019.8 892.7,1024.7 899.3,1029.6 905.9,1034.4 912.5,1039.3 919.1,1044.1 925.8,1048.8 932.4,1053.6 939.1,1058.3 945.8,1063.0 952.5,1067.7 959.1,1072.4 965.9,1077.0 972.6,1081.6 979.3,1086.2 986.1,1090.7 992.9,1095.2 999.7,1099.7 1006.5,1104.1 1013.3,1108.6 1020.1,1112.9 1027.0,1117.3 1033.8,1121.6 1040.7,1125.9 1047.7,1130.1 1054.6,1134.3 1061.5,1138.5 1068.5,1142.6 1075.5,1146.7 1082.5,1150.8 1089.5,1154.8 1096.6,1158.8 1103.6,1162.8 1110.7,1166.7 1117.8,1170.5 1124.9,1174.4 1132.1,1178.2 1139.2,1181.9 1146.4,1185.6 1153.6,1189.3 1160.8,1192.9 1168.0,1196.5 1175.3,1200.0 1182.6,1203.5 1189.9,1207.0 1197.2,1210.4 1204.5,1213.8 1211.9,1217.1 1219.3,1220.4 1226.7,1223.6 1234.1,1226.8 1241.5,1229.9 1249.0,1233.0 1256.5,1236.1 1264.0,1239.1 1271.5,1242.0 1279.0,1244.9 1286.6,1247.7 1294.2,1250.5 1301.8,1253.3 1309.4,1256.0 1317.1,1258.6 1324.8,1261.2 1332.5,1263.8 1340.2,1266.3 1347.9,1268.7 1355.7,1271.1 1363.5,1273.4 1371.3,1275.7 1379.1,1277.9 1387.0,1280.1 1394.9,1282.2 1402.8,1284.3 1410.7,1286.3 1418.6,1288.2 1426.6,1290.1 1434.6,1291.9 1444.9,1294.3 1454.3,1298.6 L1445,1318.5 L1445.0,1318.5 1436.1,1314.8 1426.1,1312.6 1416.1,1310.2 1406.1,1307.8 1396.2,1305.3 1386.3,1302.7 1376.5,1300.0 1366.7,1297.3 1356.9,1294.4 1347.2,1291.5 1337.5,1288.5 1327.8,1285.4 1318.2,1282.2 1308.6,1279.0 1299.1,1275.7 1289.5,1272.3 1280.0,1268.8 1270.6,1265.2 1261.2,1261.6 1251.8,1257.9 1242.4,1254.1 1233.1,1250.3 1223.8,1246.3 1214.6,1242.3 1205.4,1238.3 1196.2,1234.1 1187.0,1229.9 1177.9,1225.7 1168.8,1221.4 1159.8,1217.0 1150.8,1212.5 1141.8,1208.0 1132.8,1203.4 1123.9,1198.7 1115.0,1194.0 1106.1,1189.2 1097.3,1184.4 1088.5,1179.5 1079.7,1174.6 1071.0,1169.6 1062.3,1164.5 1053.6,1159.4 1045.0,1154.2 1036.3,1149.0 1027.7,1143.7 1019.2,1138.4 1010.7,1133.0 1002.2,1127.6 993.7,1122.1 985.2,1116.5 976.8,1111.0 968.4,1105.3 960.1,1099.7 951.7,1094.0 943.4,1088.2 935.1,1082.4 926.9,1076.6 918.6,1070.8 910.4,1064.9 902.2,1058.9 894.0,1053.0 885.9,1047.0 877.7,1041.0 869.6,1034.9 861.5,1028.9 853.4,1022.8 845.3,1016.7 837.3,1010.5 829.2,1004.4 821.2,998.2 813.2,992.0 805.2,985.8 797.2,979.6 789.2,973.4 781.2,967.1 773.2,960.9 765.3,954.6 757.3,948.4 749.4,942.1 741.5,935.8 733.5,929.6 725.6,923.3 717.7,917.0 709.8,910.8 701.9,904.5 693.9,898.2 686.0,892.0 678.1,885.8 670.2,879.5 662.3,873.3 654.4,867.1 646.5,860.9 638.5,854.8 630.6,848.6 622.7,842.5 614.7,836.4 604.5,833.0 L604.5,833.0 595.8,827.9 587.0,822.1 578.1,816.5 569.1,811.1 560.0,806.0 550.8,801.0 541.6,796.3 532.2,791.8 522.8,787.5 513.3,783.4 503.7,779.5 494.0,775.8 484.3,772.3 474.5,769.1 464.7,766.0 454.8,763.2 444.9,760.5 434.9,758.1 424.9,755.9 414.8,753.8 404.7,752.0 394.5,750.4 384.4,749.0 374.2,747.7 363.9,746.7 353.7,745.9 343.4,745.2 333.1,744.8 322.9,744.5 312.6,744.5 302.3,744.6 292.0,744.9 281.7,745.4 271.4,746.1 261.1,747.0 250.9,748.1 240.6,749.4 230.4,750.8 220.2,752.5 210.1,754.3 199.9,756.3 189.8,758.5 179.8,760.9 169.7,763.4 159.8,766.1 149.8,769.0 140.0,772.1 130.2,775.4 120.4,778.8 110.7,782.4 101.1,786.2 91.5,790.2 82.0,794.3 72.6,798.6 63.3,803.0 54.0,807.7 44.8,812.5 35.8,817.5 26.8,822.6 17.9,827.9 9.1,833.4 0.0,838.0 Z" fill="url(#bandg)"/>
<path d="M0.0,838.0 9.1,833.4 17.9,827.9 26.8,822.6 35.8,817.5 44.8,812.5 54.0,807.7 63.3,803.0 72.6,798.6 82.0,794.3 91.5,790.2 101.1,786.2 110.7,782.4 120.4,778.8 130.2,775.4 140.0,772.1 149.8,769.0 159.8,766.1 169.7,763.4 179.8,760.9 189.8,758.5 199.9,756.3 210.1,754.3 220.2,752.5 230.4,750.8 240.6,749.4 250.9,748.1 261.1,747.0 271.4,746.1 281.7,745.4 292.0,744.9 302.3,744.6 312.6,744.5 322.9,744.5 333.1,744.8 343.4,745.2 353.7,745.9 363.9,746.7 374.2,747.7 384.4,749.0 394.5,750.4 404.7,752.0 414.8,753.8 424.9,755.9 434.9,758.1 444.9,760.5 454.8,763.2 464.7,766.0 474.5,769.1 484.3,772.3 494.0,775.8 503.7,779.5 513.3,783.4 522.8,787.5 532.2,791.8 541.6,796.3 550.8,801.0 560.0,806.0 569.1,811.1 578.1,816.5 587.0,822.1 595.8,827.9 604.5,833.0 L0,989.6 Z" fill="url(#wov2)"/>
<line x1="382.8" y1="175.3" x2="382.8" y2="410" stroke="#2eaaa1" stroke-width="3.6" stroke-dasharray="13.9 7.85"/>
<line x1="1120" y1="160.6" x2="1120" y2="298" stroke="#2eaaa1" stroke-width="3.6" stroke-dasharray="13.9 7.85"/>
<line x1="260" y1="592.3" x2="260" y2="1084" stroke="#2eaaa1" stroke-width="3.6" stroke-dasharray="13.9 7.85"/>
<line x1="856.2" y1="1020.5" x2="856.2" y2="1188" stroke="#2eaaa1" stroke-width="3.6" stroke-dasharray="13.9 7.85"/>
<g clip-path="url(#silclip)" stroke="#3cc4b9">
<line x1="382.8" y1="175.3" x2="382.8" y2="410"  stroke-width="3.6" stroke-dasharray="13.9 7.85"/>
<line x1="260" y1="592.3" x2="260" y2="1084"  stroke-width="3.6" stroke-dasharray="13.9 7.85"/>
<line x1="856.2" y1="1020.5" x2="856.2" y2="1188"  stroke-width="3.6" stroke-dasharray="13.9 7.85"/>
</g>
<circle cx="382.5" cy="423.5" r="26.5" fill="#3cc9bc" fill-opacity="0.42"/><circle cx="382.5" cy="423.5" r="16.8" fill="#34cdbf"/>
<circle cx="1120" cy="313.5" r="26.5" fill="#3cc9bc" fill-opacity="0.42"/><circle cx="1120" cy="313.5" r="16.8" fill="#34cdbf"/>
<circle cx="260" cy="570" r="26.5" fill="#3cc9bc" fill-opacity="0.42"/><circle cx="260" cy="570" r="16.8" fill="#34cdbf"/>
<circle cx="856" cy="997" r="26.5" fill="#3cc9bc" fill-opacity="0.42"/><circle cx="856" cy="997" r="16.8" fill="#34cdbf"/>
</svg>
<div class="pill" style="left:134.7px;top:98px;width:496.5px;height:78.5px;border-radius:39.2px"></div>
<div class="ptxt" style="left:154.4px;top:114.3px;font-size:40px;letter-spacing:-1.720px">Regenerated sponge layer</div>
<div class="pill" style="left:857px;top:72.5px;width:526.0px;height:77.5px;border-radius:38.8px"></div>
<div class="ptxt" style="left:873.8px;top:88.0px;font-size:40px;letter-spacing:-1.500px">Nappa leather fabric surface</div>
<div class="pill" style="left:44.7px;top:1092.2px;width:430.8px;height:78.2px;border-radius:39.1px"></div>
<div class="ptxt" style="left:65.0px;top:1107.6px;font-size:40px;letter-spacing:-0.900px">Foam absorbent layer</div>
<div class="pill" style="left:631px;top:1194.3px;width:449.7px;height:77.6px;border-radius:38.8px"></div>
<div class="ptxt" style="left:649.7px;top:1208.9px;font-size:40px;letter-spacing:-0.800px">Non-slip rubber bottom</div>
<div class="note" style="left:241.0px;top:56.1px;font-size:29.5px;letter-spacing:0.950px;line-height:27.8px">Soft and comfortable</div>
<div class="note" style="left:862.0px;top:-0.4px;font-size:29.5px;letter-spacing:0.850px;line-height:27.8px">Rapid penetration of mois-ture does<br>not accumulate</div>
<div class="note" style="left:52.0px;top:1188.4px;font-size:29.5px;letter-spacing:0.850px;line-height:27.5px">Absorb instantly and evaporate<br>quickly</div>
<div class="note" style="left:652.0px;top:1292.4px;font-size:29.5px;letter-spacing:0.850px;line-height:27.8px">Anti-slip texture for firm grip</div>
</body></html>
